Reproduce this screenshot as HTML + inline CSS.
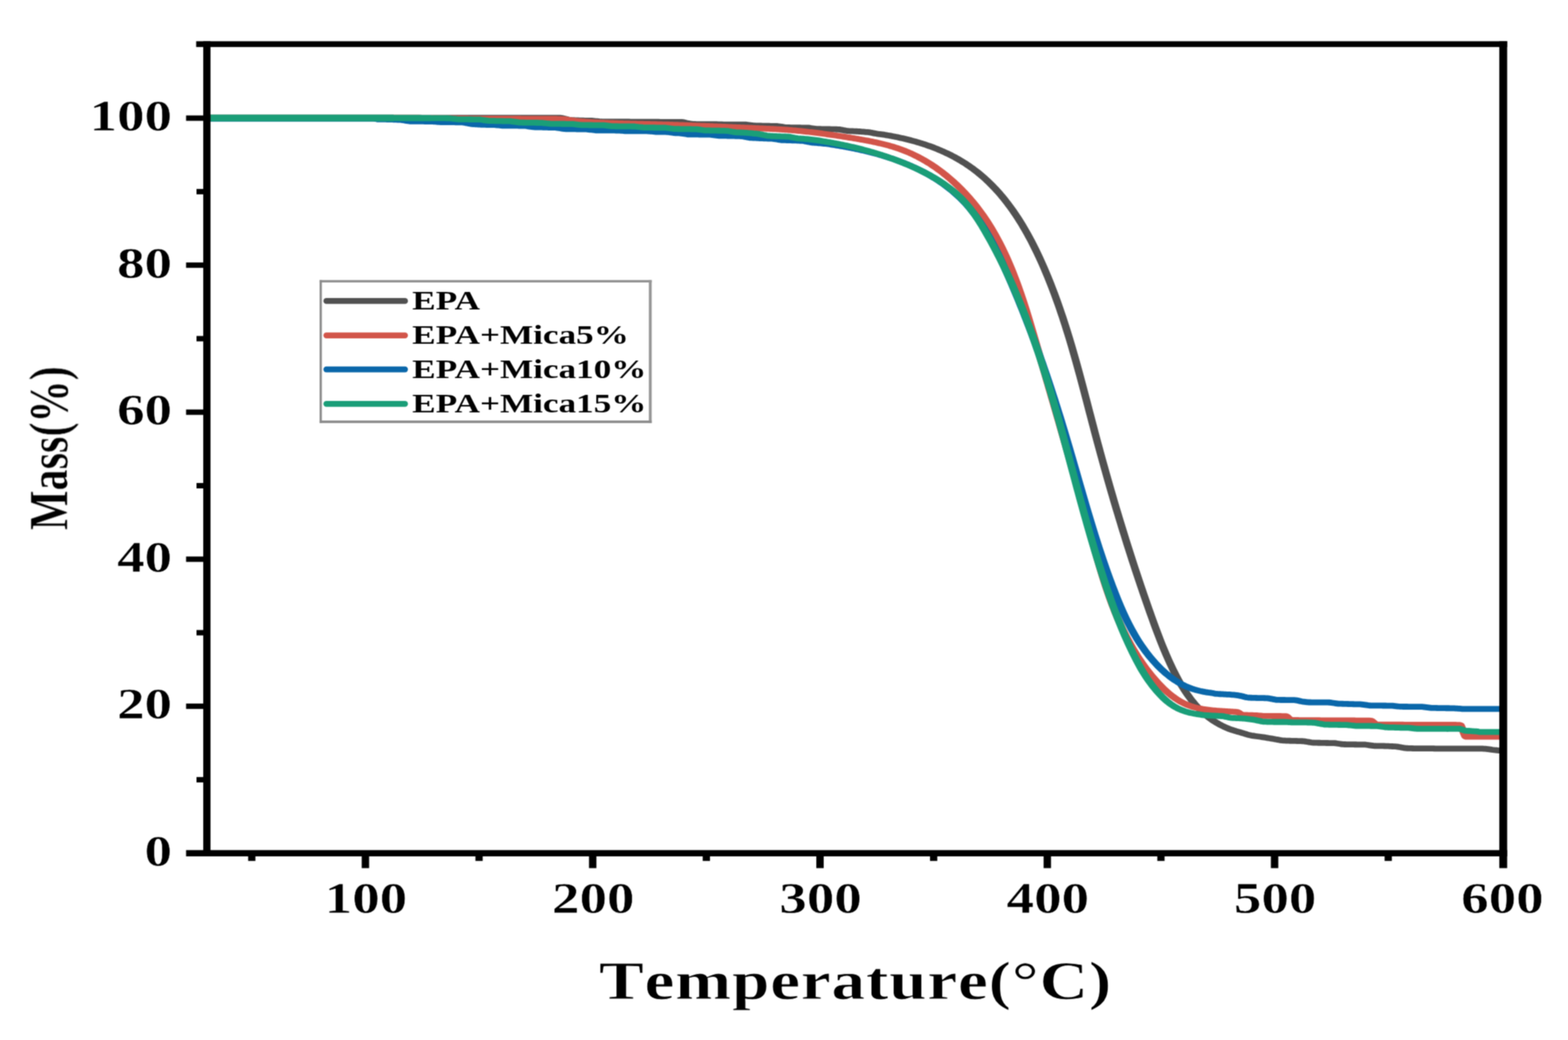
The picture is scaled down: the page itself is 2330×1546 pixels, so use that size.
<!DOCTYPE html>
<html lang="en"><head><meta charset="utf-8"><title>TGA curves</title>
<style>
html,body{margin:0;padding:0;background:#fff;}
body{width:2330px;height:1546px;overflow:hidden;}
svg{display:block;}
text{font-family:"Liberation Serif","DejaVu Serif",serif;font-weight:bold;fill:#000;stroke:#fff;stroke-width:0;stroke-linejoin:round;}
.t1{stroke-width:0.9px;}
.t2{stroke-width:0.55px;}
</style></head><body>
<svg width="2330" height="1546" viewBox="0 0 2330 1546">
<defs><filter id="soft" x="0" y="0" width="2330" height="1546" filterUnits="userSpaceOnUse" color-interpolation-filters="sRGB"><feConvolveMatrix order="3" kernelMatrix="1 2 1 2 4 2 1 2 1" divisor="16" edgeMode="duplicate" preserveAlpha="false"/></filter></defs>
<rect x="0" y="0" width="2330" height="1546" fill="#fff"/>
<g filter="url(#soft)">

<g transform="scale(1.28,1)" fill="none" stroke-width="8.8" stroke-linejoin="round" stroke-linecap="butt">
<path d="M239.84,175.10 L241.41,175.10 L242.97,175.10 L244.53,175.10 L246.09,175.10 L247.66,175.10 L249.22,175.10 L250.78,175.10 L252.34,175.10 L253.91,175.10 L255.47,175.10 L257.03,175.10 L258.59,175.10 L260.16,175.10 L261.72,175.10 L263.28,175.10 L264.84,175.10 L266.41,175.10 L267.97,175.10 L269.53,175.10 L271.09,175.10 L272.66,175.10 L274.22,175.10 L275.78,175.10 L277.34,175.10 L278.91,175.10 L280.47,175.10 L282.03,175.10 L283.59,175.10 L285.16,175.10 L286.72,175.10 L288.28,175.10 L289.84,175.10 L291.41,175.10 L292.97,175.10 L294.53,175.10 L296.09,175.10 L297.66,175.10 L299.22,175.10 L300.78,175.10 L302.34,175.10 L303.91,175.10 L305.47,175.10 L307.03,175.10 L308.59,175.10 L310.16,175.10 L311.72,175.10 L313.28,175.10 L314.84,175.10 L316.41,175.10 L317.97,175.10 L319.53,175.10 L321.09,175.10 L322.66,175.10 L324.22,175.10 L325.78,175.10 L327.34,175.10 L328.91,175.10 L330.47,175.10 L332.03,175.10 L333.59,175.10 L335.16,175.10 L336.72,175.10 L338.28,175.10 L339.84,175.10 L341.41,175.10 L342.97,175.10 L344.53,175.10 L346.09,175.10 L347.66,175.10 L349.22,175.10 L350.78,175.10 L352.34,175.10 L353.91,175.10 L355.47,175.10 L357.03,175.10 L358.59,175.10 L360.16,175.10 L361.72,175.10 L363.28,175.10 L364.84,175.10 L366.41,175.10 L367.97,175.10 L369.53,175.10 L371.09,175.10 L372.66,175.10 L374.22,175.10 L375.78,175.10 L377.34,175.10 L378.91,175.10 L380.47,175.10 L382.03,175.10 L383.59,175.10 L385.16,175.10 L386.72,175.10 L388.28,175.10 L389.84,175.10 L391.41,175.10 L392.97,175.10 L394.53,175.10 L396.09,175.10 L397.66,175.10 L399.22,175.10 L400.78,175.10 L402.34,175.10 L403.91,175.10 L405.47,175.10 L407.03,175.10 L408.59,175.10 L410.16,175.10 L411.72,175.10 L413.28,175.10 L414.84,175.10 L416.41,175.10 L417.97,175.10 L419.53,175.10 L421.09,175.10 L422.66,175.10 L424.22,175.10 L425.78,175.10 L427.34,175.10 L428.91,175.10 L430.47,175.10 L432.03,175.10 L433.59,175.10 L435.16,175.10 L436.72,175.10 L438.28,175.10 L439.84,175.10 L441.41,175.10 L442.97,175.10 L444.53,175.10 L446.09,175.10 L447.66,175.10 L449.22,175.10 L450.78,175.10 L452.34,175.10 L453.91,175.10 L455.47,175.10 L457.03,175.10 L458.59,175.10 L460.16,175.10 L461.72,175.10 L463.28,175.10 L464.84,175.10 L466.41,175.10 L467.97,175.10 L469.53,175.10 L471.09,175.10 L472.66,175.10 L474.22,175.10 L475.78,175.10 L477.34,175.10 L478.91,175.10 L480.47,175.10 L482.03,175.10 L483.59,175.10 L485.16,175.10 L486.72,175.10 L488.28,175.10 L489.84,175.10 L491.41,175.10 L492.97,175.10 L494.53,175.10 L496.09,175.10 L497.66,175.10 L499.22,175.10 L500.78,175.10 L502.34,175.10 L503.91,175.10 L505.47,175.10 L507.03,175.10 L508.59,175.10 L510.16,175.10 L511.72,175.10 L513.28,175.10 L514.84,175.10 L516.41,175.10 L517.97,175.10 L519.53,175.10 L521.09,175.10 L522.66,175.10 L524.22,175.10 L525.78,175.10 L527.34,175.10 L528.91,175.10 L530.47,175.10 L532.03,175.10 L533.59,175.10 L535.16,175.10 L536.72,175.10 L538.28,175.10 L539.84,175.10 L541.41,175.10 L542.97,175.10 L544.53,175.10 L546.09,175.10 L547.66,175.10 L549.22,175.10 L550.78,175.10 L552.34,175.10 L553.91,175.10 L555.47,175.10 L557.03,175.10 L558.59,175.10 L560.16,175.10 L561.72,175.10 L563.28,175.10 L564.84,175.10 L566.41,175.10 L567.97,175.10 L569.53,175.10 L571.09,175.10 L572.66,175.10 L574.22,175.10 L575.78,175.10 L577.34,175.10 L578.91,175.10 L580.47,175.10 L582.03,175.10 L583.59,175.10 L585.16,175.10 L586.72,175.10 L588.28,175.10 L589.84,175.10 L591.41,175.10 L592.97,175.10 L594.53,175.10 L596.09,175.10 L597.66,175.10 L599.22,175.10 L600.78,175.10 L602.34,175.10 L603.91,175.10 L605.47,175.10 L607.03,175.10 L608.59,175.10 L610.16,175.10 L611.72,175.10 L613.28,175.10 L614.84,175.10 L616.41,175.10 L617.97,175.10 L619.53,175.10 L621.09,175.10 L622.66,175.10 L624.22,175.10 L625.78,175.10 L627.34,175.10 L628.91,175.10 L630.47,175.10 L632.03,175.10 L633.59,175.10 L635.16,175.10 L636.72,175.10 L638.28,175.10 L639.84,175.10 L641.41,175.10 L642.97,175.10 L644.53,175.10 L646.09,175.10 L647.66,175.10 L649.22,175.11 L650.78,175.18 L652.34,175.61 L653.91,176.07 L655.47,176.54 L657.03,177.03 L658.59,177.51 L660.16,177.97 L661.72,178.28 L663.28,178.44 L664.84,178.55 L666.41,178.66 L667.97,178.78 L669.53,178.89 L671.09,179.00 L672.66,179.09 L674.22,179.16 L675.78,179.22 L677.34,179.26 L678.91,179.30 L680.47,179.33 L682.03,179.36 L683.59,179.38 L685.16,179.40 L686.72,179.41 L688.28,179.61 L689.84,179.81 L691.41,180.01 L692.97,180.22 L694.53,180.44 L696.09,180.66 L697.66,180.77 L699.22,180.78 L700.78,180.79 L702.34,180.80 L703.91,180.81 L705.47,180.81 L707.03,180.81 L708.59,180.82 L710.16,180.82 L711.72,180.82 L713.28,180.82 L714.84,180.82 L716.41,180.82 L717.97,180.82 L719.53,180.82 L721.09,180.82 L722.66,180.82 L724.22,180.86 L725.78,180.90 L727.34,180.93 L728.91,180.97 L730.47,181.01 L732.03,181.04 L733.59,181.06 L735.16,181.06 L736.72,181.06 L738.28,181.06 L739.84,181.06 L741.41,181.06 L742.97,181.06 L744.53,181.06 L746.09,181.06 L747.66,181.06 L749.22,181.06 L750.78,181.06 L752.34,181.06 L753.91,181.06 L755.47,181.06 L757.03,181.06 L758.59,181.06 L760.16,181.11 L761.72,181.16 L763.28,181.21 L764.84,181.26 L766.41,181.30 L767.97,181.35 L769.53,181.38 L771.09,181.38 L772.66,181.38 L774.22,181.38 L775.78,181.38 L777.34,181.38 L778.91,181.37 L780.47,181.38 L782.03,181.39 L783.59,181.40 L785.16,181.41 L786.72,181.43 L788.28,181.45 L789.84,181.47 L791.41,181.49 L792.97,181.64 L794.53,181.96 L796.09,182.59 L797.66,183.12 L799.22,183.45 L800.78,183.74 L802.34,184.04 L803.91,184.33 L805.47,184.49 L807.03,184.51 L808.59,184.54 L810.16,184.58 L811.72,184.61 L813.28,184.63 L814.84,184.64 L816.41,184.64 L817.97,184.65 L819.53,184.65 L821.09,184.65 L822.66,184.65 L824.22,184.65 L825.78,184.65 L827.34,184.66 L828.91,184.66 L830.47,184.66 L832.03,184.73 L833.59,184.80 L835.16,184.87 L836.72,184.95 L838.28,185.02 L839.84,185.09 L841.41,185.13 L842.97,185.13 L844.53,185.13 L846.09,185.13 L847.66,185.13 L849.22,185.13 L850.78,185.14 L852.34,185.14 L853.91,185.14 L855.47,185.15 L857.03,185.16 L858.59,185.17 L860.16,185.18 L861.72,185.19 L863.28,185.21 L864.84,185.23 L866.41,185.25 L867.97,185.51 L869.53,185.76 L871.09,186.01 L872.66,186.26 L874.22,186.50 L875.78,186.74 L877.34,186.87 L878.91,186.89 L880.47,186.92 L882.03,186.96 L883.59,186.99 L885.16,187.03 L886.72,187.07 L888.28,187.11 L889.84,187.15 L891.41,187.19 L892.97,187.24 L894.53,187.28 L896.09,187.32 L897.66,187.36 L899.22,187.41 L900.78,187.45 L902.34,187.49 L903.91,187.79 L905.47,188.08 L907.03,188.37 L908.59,188.67 L910.16,188.96 L911.72,189.26 L913.28,189.43 L914.84,189.47 L916.41,189.50 L917.97,189.54 L919.53,189.57 L921.09,189.61 L922.66,189.64 L924.22,189.67 L925.78,189.70 L927.34,189.72 L928.91,189.75 L930.47,189.78 L932.03,189.81 L933.59,189.84 L935.16,189.86 L936.72,189.89 L938.28,189.92 L939.84,190.19 L941.41,190.47 L942.97,190.74 L944.53,191.01 L946.09,191.28 L947.66,191.55 L949.22,191.69 L950.78,191.72 L952.34,191.75 L953.91,191.78 L955.47,191.82 L957.03,191.85 L958.59,191.89 L960.16,191.92 L961.72,191.96 L963.28,192.01 L964.84,192.05 L966.41,192.10 L967.97,192.15 L969.53,192.21 L971.09,192.27 L972.66,192.33 L974.22,192.40 L975.78,192.77 L977.34,193.14 L978.91,193.50 L980.47,193.85 L982.03,194.19 L983.59,194.52 L985.16,194.72 L986.72,194.79 L988.28,194.86 L989.84,194.95 L991.41,195.04 L992.97,195.14 L994.53,195.24 L996.09,195.36 L997.66,195.49 L999.22,195.62 L1000.78,195.77 L1002.34,195.93 L1003.91,196.10 L1005.47,196.29 L1007.03,196.48 L1008.59,196.70 L1010.16,196.93 L1011.72,197.36 L1013.28,197.76 L1014.84,198.14 L1016.41,198.49 L1017.97,198.82 L1019.53,199.11 L1021.09,199.36 L1022.66,199.60 L1024.22,199.85 L1025.78,200.17 L1027.34,200.50 L1028.91,200.84 L1030.47,201.19 L1032.03,201.54 L1033.59,201.90 L1035.16,202.28 L1036.72,202.66 L1038.28,203.05 L1039.84,203.45 L1041.41,203.86 L1042.97,204.28 L1044.53,204.71 L1046.09,205.15 L1047.66,205.60 L1049.22,206.06 L1050.78,206.53 L1052.34,207.02 L1053.91,207.51 L1055.47,208.02 L1057.03,208.53 L1058.59,209.06 L1060.16,209.61 L1061.72,210.16 L1063.28,210.72 L1064.84,211.30 L1066.41,211.90 L1067.97,212.50 L1069.53,213.12 L1071.09,213.75 L1072.66,214.40 L1074.22,215.06 L1075.78,215.74 L1077.34,216.43 L1078.91,217.13 L1080.47,217.85 L1082.03,218.59 L1083.59,219.34 L1085.16,220.12 L1086.72,220.90 L1088.28,221.71 L1089.84,222.53 L1091.41,223.37 L1092.97,224.23 L1094.53,225.11 L1096.09,226.01 L1097.66,226.93 L1099.22,227.87 L1100.78,228.83 L1102.34,229.81 L1103.91,230.82 L1105.47,231.84 L1107.03,232.89 L1108.59,233.97 L1110.16,235.07 L1111.72,236.19 L1113.28,237.34 L1114.84,238.51 L1116.41,239.71 L1117.97,240.94 L1119.53,242.19 L1121.09,243.48 L1122.66,244.79 L1124.22,246.13 L1125.78,247.51 L1127.34,248.91 L1128.91,250.35 L1130.47,251.83 L1132.03,253.33 L1133.59,254.88 L1135.16,256.46 L1136.72,258.08 L1138.28,259.74 L1139.84,261.43 L1141.41,263.17 L1142.97,264.94 L1144.53,266.76 L1146.09,268.61 L1147.66,270.51 L1149.22,272.45 L1150.78,274.44 L1152.34,276.47 L1153.91,278.55 L1155.47,280.67 L1157.03,282.84 L1158.59,285.06 L1160.16,287.33 L1161.72,289.65 L1163.28,292.01 L1164.84,294.44 L1166.41,296.91 L1167.97,299.44 L1169.53,302.02 L1171.09,304.67 L1172.66,307.37 L1174.22,310.12 L1175.78,312.94 L1177.34,315.82 L1178.91,318.76 L1180.47,321.77 L1182.03,324.84 L1183.59,327.98 L1185.16,331.18 L1186.72,334.46 L1188.28,337.80 L1189.84,341.22 L1191.41,344.71 L1192.97,348.28 L1194.53,351.92 L1196.09,355.64 L1197.66,359.44 L1199.22,363.32 L1200.78,367.29 L1202.34,371.33 L1203.91,375.46 L1205.47,379.68 L1207.03,383.98 L1208.59,388.37 L1210.16,392.86 L1211.72,397.43 L1213.28,402.09 L1214.84,406.84 L1216.41,411.68 L1217.97,416.61 L1219.53,421.64 L1221.09,426.76 L1222.66,431.98 L1224.22,437.30 L1225.78,442.73 L1227.34,448.26 L1228.91,453.90 L1230.47,459.65 L1232.03,465.51 L1233.59,471.48 L1235.16,477.57 L1236.72,483.77 L1238.28,490.09 L1239.84,496.53 L1241.41,503.09 L1242.97,509.75 L1244.53,516.54 L1246.09,523.43 L1247.66,530.43 L1249.22,537.53 L1250.78,544.73 L1252.34,552.02 L1253.91,559.40 L1255.47,566.84 L1257.03,574.36 L1258.59,581.93 L1260.16,589.54 L1261.72,597.18 L1263.28,604.84 L1264.84,612.52 L1266.41,620.18 L1267.97,627.83 L1269.53,635.46 L1271.09,643.04 L1272.66,650.57 L1274.22,658.04 L1275.78,665.45 L1277.34,672.81 L1278.91,680.11 L1280.47,687.36 L1282.03,694.55 L1283.59,701.68 L1285.16,708.77 L1286.72,715.80 L1288.28,722.78 L1289.84,729.71 L1291.41,736.58 L1292.97,743.41 L1294.53,750.19 L1296.09,756.92 L1297.66,763.60 L1299.22,770.24 L1300.78,776.83 L1302.34,783.37 L1303.91,789.87 L1305.47,796.32 L1307.03,802.72 L1308.59,809.08 L1310.16,815.40 L1311.72,821.67 L1313.28,827.90 L1314.84,834.08 L1316.41,840.23 L1317.97,846.33 L1319.53,852.39 L1321.09,858.40 L1322.66,864.38 L1324.22,870.31 L1325.78,876.21 L1327.34,882.06 L1328.91,887.88 L1330.47,893.65 L1332.03,899.39 L1333.59,905.08 L1335.16,910.74 L1336.72,916.36 L1338.28,921.93 L1339.84,927.46 L1341.41,932.92 L1342.97,938.31 L1344.53,943.61 L1346.09,948.83 L1347.66,953.94 L1349.22,958.96 L1350.78,963.87 L1352.34,968.67 L1353.91,973.36 L1355.47,977.94 L1357.03,982.41 L1358.59,986.78 L1360.16,991.03 L1361.72,995.18 L1363.28,999.21 L1364.84,1003.13 L1366.41,1006.93 L1367.97,1010.61 L1369.53,1014.17 L1371.09,1017.61 L1372.66,1020.94 L1374.22,1024.16 L1375.78,1027.26 L1377.34,1030.25 L1378.91,1033.14 L1380.47,1035.92 L1382.03,1038.60 L1383.59,1041.18 L1385.16,1043.67 L1386.72,1046.06 L1388.28,1048.36 L1389.84,1050.58 L1391.41,1052.72 L1392.97,1054.77 L1394.53,1056.74 L1396.09,1058.64 L1397.66,1060.46 L1399.22,1062.21 L1400.78,1063.90 L1402.34,1065.51 L1403.91,1067.06 L1405.47,1068.55 L1407.03,1069.97 L1408.59,1071.34 L1410.16,1072.65 L1411.72,1073.91 L1413.28,1075.10 L1414.84,1076.25 L1416.41,1077.35 L1417.97,1078.40 L1419.53,1079.39 L1421.09,1080.35 L1422.66,1081.25 L1424.22,1082.11 L1425.78,1082.94 L1427.34,1083.72 L1428.91,1084.43 L1430.47,1085.10 L1432.03,1085.75 L1433.59,1086.37 L1435.16,1086.98 L1436.72,1087.57 L1438.28,1088.16 L1439.84,1088.74 L1441.41,1089.32 L1442.97,1089.90 L1444.53,1090.50 L1446.09,1091.11 L1447.66,1091.77 L1449.22,1092.38 L1450.78,1092.85 L1452.34,1093.24 L1453.91,1093.59 L1455.47,1093.91 L1457.03,1094.21 L1458.59,1094.49 L1460.16,1094.75 L1461.72,1095.01 L1463.28,1095.28 L1464.84,1095.56 L1466.41,1095.85 L1467.97,1096.17 L1469.53,1096.51 L1471.09,1096.86 L1472.66,1097.20 L1474.22,1097.54 L1475.78,1097.86 L1477.34,1098.16 L1478.91,1098.54 L1480.47,1098.92 L1482.03,1099.29 L1483.59,1099.65 L1485.16,1100.01 L1486.72,1100.39 L1488.28,1100.68 L1489.84,1100.81 L1491.41,1100.93 L1492.97,1101.03 L1494.53,1101.11 L1496.09,1101.18 L1497.66,1101.25 L1499.22,1101.30 L1500.78,1101.36 L1502.34,1101.41 L1503.91,1101.47 L1505.47,1101.52 L1507.03,1101.58 L1508.59,1101.64 L1510.16,1101.70 L1511.72,1101.76 L1513.28,1101.82 L1514.84,1102.15 L1516.41,1102.49 L1517.97,1102.82 L1519.53,1103.15 L1521.09,1103.48 L1522.66,1103.81 L1524.22,1104.01 L1525.78,1104.07 L1527.34,1104.12 L1528.91,1104.18 L1530.47,1104.23 L1532.03,1104.27 L1533.59,1104.32 L1535.16,1104.36 L1536.72,1104.40 L1538.28,1104.44 L1539.84,1104.48 L1541.41,1104.52 L1542.97,1104.55 L1544.53,1104.59 L1546.09,1104.62 L1547.66,1104.65 L1549.22,1104.68 L1550.78,1104.95 L1552.34,1105.23 L1553.91,1105.50 L1555.47,1105.78 L1557.03,1106.06 L1558.59,1106.34 L1560.16,1106.49 L1561.72,1106.52 L1563.28,1106.55 L1564.84,1106.58 L1566.41,1106.61 L1567.97,1106.64 L1569.53,1106.67 L1571.09,1106.70 L1572.66,1106.73 L1574.22,1106.76 L1575.78,1106.79 L1577.34,1106.82 L1578.91,1106.84 L1580.47,1106.87 L1582.03,1106.90 L1583.59,1106.93 L1585.16,1106.96 L1586.72,1107.24 L1588.28,1107.53 L1589.84,1107.81 L1591.41,1108.08 L1592.97,1108.35 L1594.53,1108.62 L1596.09,1108.76 L1597.66,1108.79 L1599.22,1108.81 L1600.78,1108.84 L1602.34,1108.88 L1603.91,1108.92 L1605.47,1108.97 L1607.03,1109.02 L1608.59,1109.08 L1610.16,1109.15 L1611.72,1109.23 L1613.28,1109.31 L1614.84,1109.40 L1616.41,1109.49 L1617.97,1109.58 L1619.53,1109.67 L1621.09,1109.77 L1622.66,1110.12 L1624.22,1110.47 L1625.78,1110.83 L1627.34,1111.19 L1628.91,1111.56 L1630.47,1111.93 L1632.03,1112.17 L1633.59,1112.25 L1635.16,1112.33 L1636.72,1112.40 L1638.28,1112.46 L1639.84,1112.51 L1641.41,1112.54 L1642.97,1112.57 L1644.53,1112.60 L1646.09,1112.61 L1647.66,1112.62 L1649.22,1112.62 L1650.78,1112.62 L1652.34,1112.62 L1653.91,1112.62 L1655.47,1112.61 L1657.03,1112.61 L1658.59,1112.64 L1660.16,1112.66 L1661.72,1112.69 L1663.28,1112.72 L1664.84,1112.75 L1666.41,1112.78 L1667.97,1112.80 L1669.53,1112.80 L1671.09,1112.80 L1672.66,1112.80 L1674.22,1112.80 L1675.78,1112.80 L1677.34,1112.80 L1678.91,1112.80 L1680.47,1112.80 L1682.03,1112.80 L1683.59,1112.80 L1685.16,1112.80 L1686.72,1112.80 L1688.28,1112.80 L1689.84,1112.80 L1691.41,1112.80 L1692.97,1112.80 L1694.53,1112.80 L1696.09,1112.80 L1697.66,1112.80 L1699.22,1112.80 L1700.78,1112.80 L1702.34,1112.80 L1703.91,1112.80 L1705.47,1112.80 L1707.03,1112.80 L1708.59,1112.80 L1710.16,1112.80 L1711.72,1112.80 L1713.28,1112.80 L1714.84,1112.80 L1716.41,1112.80 L1717.97,1112.80 L1719.53,1112.81 L1721.09,1112.89 L1722.66,1113.03 L1724.22,1113.20 L1725.78,1113.40 L1727.34,1113.59 L1728.91,1113.77 L1730.47,1114.15 L1732.03,1114.48 L1733.59,1114.74 L1735.16,1114.98 L1736.72,1115.21 L1738.28,1115.46 L1739.84,1115.60 L1740.62,1115.60" stroke="#515151"/>
<path d="M239.84,175.10 L241.41,175.10 L242.97,175.10 L244.53,175.10 L246.09,175.10 L247.66,175.10 L249.22,175.10 L250.78,175.10 L252.34,175.10 L253.91,175.10 L255.47,175.10 L257.03,175.10 L258.59,175.10 L260.16,175.10 L261.72,175.10 L263.28,175.10 L264.84,175.10 L266.41,175.10 L267.97,175.10 L269.53,175.10 L271.09,175.10 L272.66,175.10 L274.22,175.10 L275.78,175.10 L277.34,175.10 L278.91,175.10 L280.47,175.10 L282.03,175.10 L283.59,175.10 L285.16,175.10 L286.72,175.10 L288.28,175.10 L289.84,175.10 L291.41,175.10 L292.97,175.10 L294.53,175.10 L296.09,175.10 L297.66,175.10 L299.22,175.10 L300.78,175.10 L302.34,175.10 L303.91,175.10 L305.47,175.10 L307.03,175.10 L308.59,175.10 L310.16,175.10 L311.72,175.10 L313.28,175.10 L314.84,175.10 L316.41,175.10 L317.97,175.10 L319.53,175.10 L321.09,175.10 L322.66,175.10 L324.22,175.10 L325.78,175.10 L327.34,175.10 L328.91,175.10 L330.47,175.10 L332.03,175.10 L333.59,175.10 L335.16,175.10 L336.72,175.10 L338.28,175.10 L339.84,175.10 L341.41,175.10 L342.97,175.10 L344.53,175.10 L346.09,175.10 L347.66,175.10 L349.22,175.10 L350.78,175.10 L352.34,175.10 L353.91,175.10 L355.47,175.10 L357.03,175.10 L358.59,175.10 L360.16,175.10 L361.72,175.10 L363.28,175.10 L364.84,175.10 L366.41,175.10 L367.97,175.10 L369.53,175.10 L371.09,175.10 L372.66,175.10 L374.22,175.10 L375.78,175.10 L377.34,175.10 L378.91,175.10 L380.47,175.10 L382.03,175.10 L383.59,175.10 L385.16,175.10 L386.72,175.10 L388.28,175.10 L389.84,175.10 L391.41,175.10 L392.97,175.10 L394.53,175.10 L396.09,175.10 L397.66,175.10 L399.22,175.10 L400.78,175.10 L402.34,175.10 L403.91,175.10 L405.47,175.10 L407.03,175.10 L408.59,175.10 L410.16,175.10 L411.72,175.10 L413.28,175.10 L414.84,175.10 L416.41,175.10 L417.97,175.10 L419.53,175.10 L421.09,175.10 L422.66,175.10 L424.22,175.10 L425.78,175.10 L427.34,175.10 L428.91,175.10 L430.47,175.10 L432.03,175.10 L433.59,175.10 L435.16,175.10 L436.72,175.10 L438.28,175.10 L439.84,175.10 L441.41,175.10 L442.97,175.10 L444.53,175.10 L446.09,175.10 L447.66,175.10 L449.22,175.10 L450.78,175.10 L452.34,175.10 L453.91,175.10 L455.47,175.10 L457.03,175.10 L458.59,175.10 L460.16,175.10 L461.72,175.10 L463.28,175.10 L464.84,175.10 L466.41,175.10 L467.97,175.10 L469.53,175.10 L471.09,175.10 L472.66,175.11 L474.22,175.12 L475.78,175.13 L477.34,175.14 L478.91,175.15 L480.47,175.17 L482.03,175.19 L483.59,175.21 L485.16,175.23 L486.72,175.25 L488.28,175.28 L489.84,175.30 L491.41,175.33 L492.97,175.35 L494.53,175.38 L496.09,175.41 L497.66,175.43 L499.22,175.46 L500.78,175.49 L502.34,175.51 L503.91,175.54 L505.47,175.56 L507.03,175.59 L508.59,175.61 L510.16,175.64 L511.72,175.66 L513.28,175.69 L514.84,175.72 L516.41,175.75 L517.97,175.78 L519.53,175.82 L521.09,175.85 L522.66,175.88 L524.22,175.92 L525.78,175.95 L527.34,175.98 L528.91,176.01 L530.47,176.05 L532.03,176.08 L533.59,176.11 L535.16,176.14 L536.72,176.16 L538.28,176.19 L539.84,176.22 L541.41,176.24 L542.97,176.26 L544.53,176.28 L546.09,176.29 L547.66,176.31 L549.22,176.32 L550.78,176.33 L552.34,176.34 L553.91,176.35 L555.47,176.36 L557.03,176.37 L558.59,176.38 L560.16,176.39 L561.72,176.40 L563.28,176.41 L564.84,176.41 L566.41,176.42 L567.97,176.43 L569.53,176.43 L571.09,176.44 L572.66,176.44 L574.22,176.45 L575.78,176.45 L577.34,176.46 L578.91,176.46 L580.47,176.47 L582.03,176.47 L583.59,176.47 L585.16,176.48 L586.72,176.48 L588.28,176.49 L589.84,176.49 L591.41,176.49 L592.97,176.50 L594.53,176.50 L596.09,176.50 L597.66,176.51 L599.22,176.51 L600.78,176.51 L602.34,176.52 L603.91,176.52 L605.47,176.53 L607.03,176.53 L608.59,176.54 L610.16,176.54 L611.72,176.55 L613.28,176.55 L614.84,176.56 L616.41,176.56 L617.97,176.57 L619.53,176.58 L621.09,176.58 L622.66,176.59 L624.22,176.60 L625.78,176.61 L627.34,176.62 L628.91,176.63 L630.47,176.64 L632.03,176.65 L633.59,176.66 L635.16,176.67 L636.72,176.68 L638.28,176.70 L639.84,176.71 L641.41,176.72 L642.97,176.74 L644.53,176.76 L646.09,176.77 L647.66,176.79 L649.22,176.82 L650.78,176.90 L652.34,177.03 L653.91,177.21 L655.47,177.42 L657.03,177.67 L658.59,177.95 L660.16,178.24 L661.72,178.54 L663.28,178.84 L664.84,179.13 L666.41,179.41 L667.97,179.68 L669.53,179.91 L671.09,180.11 L672.66,180.28 L674.22,180.43 L675.78,180.59 L677.34,180.73 L678.91,180.88 L680.47,181.01 L682.03,181.15 L683.59,181.28 L685.16,181.41 L686.72,181.53 L688.28,181.65 L689.84,181.77 L691.41,181.88 L692.97,181.99 L694.53,182.09 L696.09,182.19 L697.66,182.29 L699.22,182.38 L700.78,182.47 L702.34,182.56 L703.91,182.64 L705.47,182.72 L707.03,182.80 L708.59,182.87 L710.16,182.95 L711.72,183.02 L713.28,183.09 L714.84,183.16 L716.41,183.22 L717.97,183.29 L719.53,183.35 L721.09,183.41 L722.66,183.47 L724.22,183.53 L725.78,183.59 L727.34,183.65 L728.91,183.70 L730.47,183.76 L732.03,183.81 L733.59,183.86 L735.16,183.92 L736.72,183.97 L738.28,184.02 L739.84,184.07 L741.41,184.12 L742.97,184.17 L744.53,184.22 L746.09,184.27 L747.66,184.32 L749.22,184.37 L750.78,184.41 L752.34,184.46 L753.91,184.51 L755.47,184.56 L757.03,184.61 L758.59,184.66 L760.16,184.72 L761.72,184.77 L763.28,184.82 L764.84,184.87 L766.41,184.93 L767.97,184.98 L769.53,185.04 L771.09,185.10 L772.66,185.15 L774.22,185.21 L775.78,185.27 L777.34,185.34 L778.91,185.40 L780.47,185.47 L782.03,185.53 L783.59,185.60 L785.16,185.67 L786.72,185.74 L788.28,185.81 L789.84,185.88 L791.41,185.95 L792.97,186.02 L794.53,186.10 L796.09,186.17 L797.66,186.25 L799.22,186.32 L800.78,186.40 L802.34,186.47 L803.91,186.55 L805.47,186.62 L807.03,186.70 L808.59,186.78 L810.16,186.86 L811.72,186.94 L813.28,187.02 L814.84,187.10 L816.41,187.18 L817.97,187.26 L819.53,187.34 L821.09,187.42 L822.66,187.50 L824.22,187.59 L825.78,187.67 L827.34,187.75 L828.91,187.84 L830.47,187.92 L832.03,188.00 L833.59,188.09 L835.16,188.17 L836.72,188.26 L838.28,188.34 L839.84,188.43 L841.41,188.51 L842.97,188.60 L844.53,188.68 L846.09,188.77 L847.66,188.85 L849.22,188.94 L850.78,189.03 L852.34,189.11 L853.91,189.20 L855.47,189.28 L857.03,189.37 L858.59,189.46 L860.16,189.54 L861.72,189.63 L863.28,189.72 L864.84,189.80 L866.41,189.89 L867.97,189.98 L869.53,190.07 L871.09,190.16 L872.66,190.25 L874.22,190.34 L875.78,190.43 L877.34,190.52 L878.91,190.62 L880.47,190.71 L882.03,190.80 L883.59,190.89 L885.16,190.99 L886.72,191.08 L888.28,191.18 L889.84,191.27 L891.41,191.37 L892.97,191.46 L894.53,191.56 L896.09,191.66 L897.66,191.75 L899.22,191.85 L900.78,191.95 L902.34,192.06 L903.91,192.17 L905.47,192.29 L907.03,192.41 L908.59,192.55 L910.16,192.68 L911.72,192.82 L913.28,192.97 L914.84,193.13 L916.41,193.28 L917.97,193.45 L919.53,193.62 L921.09,193.79 L922.66,193.97 L924.22,194.15 L925.78,194.34 L927.34,194.53 L928.91,194.73 L930.47,194.93 L932.03,195.14 L933.59,195.35 L935.16,195.57 L936.72,195.79 L938.28,196.01 L939.84,196.24 L941.41,196.47 L942.97,196.71 L944.53,196.94 L946.09,197.19 L947.66,197.44 L949.22,197.69 L950.78,197.94 L952.34,198.20 L953.91,198.46 L955.47,198.73 L957.03,198.99 L958.59,199.27 L960.16,199.54 L961.72,199.82 L963.28,200.10 L964.84,200.38 L966.41,200.67 L967.97,200.96 L969.53,201.25 L971.09,201.55 L972.66,201.85 L974.22,202.15 L975.78,202.46 L977.34,202.76 L978.91,203.07 L980.47,203.39 L982.03,203.70 L983.59,204.02 L985.16,204.34 L986.72,204.66 L988.28,204.98 L989.84,205.31 L991.41,205.64 L992.97,205.97 L994.53,206.31 L996.09,206.65 L997.66,206.99 L999.22,207.34 L1000.78,207.69 L1002.34,208.04 L1003.91,208.41 L1005.47,208.78 L1007.03,209.15 L1008.59,209.54 L1010.16,209.93 L1011.72,210.33 L1013.28,210.73 L1014.84,211.15 L1016.41,211.57 L1017.97,212.01 L1019.53,212.46 L1021.09,212.91 L1022.66,213.38 L1024.22,213.87 L1025.78,214.36 L1027.34,214.87 L1028.91,215.39 L1030.47,215.92 L1032.03,216.47 L1033.59,217.04 L1035.16,217.62 L1036.72,218.22 L1038.28,218.84 L1039.84,219.48 L1041.41,220.13 L1042.97,220.81 L1044.53,221.50 L1046.09,222.22 L1047.66,222.96 L1049.22,223.72 L1050.78,224.50 L1052.34,225.31 L1053.91,226.15 L1055.47,227.00 L1057.03,227.89 L1058.59,228.79 L1060.16,229.73 L1061.72,230.68 L1063.28,231.67 L1064.84,232.68 L1066.41,233.71 L1067.97,234.77 L1069.53,235.85 L1071.09,236.97 L1072.66,238.10 L1074.22,239.27 L1075.78,240.46 L1077.34,241.68 L1078.91,242.93 L1080.47,244.20 L1082.03,245.50 L1083.59,246.83 L1085.16,248.19 L1086.72,249.58 L1088.28,250.99 L1089.84,252.44 L1091.41,253.92 L1092.97,255.42 L1094.53,256.96 L1096.09,258.53 L1097.66,260.13 L1099.22,261.76 L1100.78,263.42 L1102.34,265.12 L1103.91,266.85 L1105.47,268.61 L1107.03,270.41 L1108.59,272.25 L1110.16,274.12 L1111.72,276.03 L1113.28,277.98 L1114.84,279.96 L1116.41,281.98 L1117.97,284.05 L1119.53,286.15 L1121.09,288.30 L1122.66,290.49 L1124.22,292.73 L1125.78,295.01 L1127.34,297.34 L1128.91,299.71 L1130.47,302.14 L1132.03,304.62 L1133.59,307.15 L1135.16,309.74 L1136.72,312.39 L1138.28,315.10 L1139.84,317.87 L1141.41,320.70 L1142.97,323.61 L1144.53,326.58 L1146.09,329.62 L1147.66,332.74 L1149.22,335.93 L1150.78,339.20 L1152.34,342.56 L1153.91,346.00 L1155.47,349.53 L1157.03,353.14 L1158.59,356.86 L1160.16,360.66 L1161.72,364.57 L1163.28,368.58 L1164.84,372.70 L1166.41,376.93 L1167.97,381.28 L1169.53,385.74 L1171.09,390.32 L1172.66,395.03 L1174.22,399.86 L1175.78,404.82 L1177.34,409.92 L1178.91,415.15 L1180.47,420.52 L1182.03,426.02 L1183.59,431.67 L1185.16,437.45 L1186.72,443.36 L1188.28,449.41 L1189.84,455.59 L1191.41,461.88 L1192.97,468.30 L1194.53,474.82 L1196.09,481.43 L1197.66,488.13 L1199.22,494.89 L1200.78,501.70 L1202.34,508.55 L1203.91,515.42 L1205.47,522.28 L1207.03,529.14 L1208.59,536.01 L1210.16,542.87 L1211.72,549.73 L1213.28,556.59 L1214.84,563.45 L1216.41,570.32 L1217.97,577.18 L1219.53,584.05 L1221.09,590.93 L1222.66,597.81 L1224.22,604.70 L1225.78,611.59 L1227.34,618.49 L1228.91,625.40 L1230.47,632.32 L1232.03,639.26 L1233.59,646.20 L1235.16,653.15 L1236.72,660.12 L1238.28,667.10 L1239.84,674.09 L1241.41,681.10 L1242.97,688.13 L1244.53,695.17 L1246.09,702.23 L1247.66,709.31 L1249.22,716.41 L1250.78,723.54 L1252.34,730.68 L1253.91,737.85 L1255.47,745.04 L1257.03,752.26 L1258.59,759.50 L1260.16,766.77 L1261.72,774.06 L1263.28,781.39 L1264.84,788.74 L1266.41,796.08 L1267.97,803.39 L1269.53,810.66 L1271.09,817.86 L1272.66,824.96 L1274.22,831.97 L1275.78,838.85 L1277.34,845.59 L1278.91,852.20 L1280.47,858.66 L1282.03,864.96 L1283.59,871.10 L1285.16,877.08 L1286.72,882.90 L1288.28,888.56 L1289.84,894.06 L1291.41,899.40 L1292.97,904.60 L1294.53,909.64 L1296.09,914.54 L1297.66,919.30 L1299.22,923.92 L1300.78,928.41 L1302.34,932.77 L1303.91,937.00 L1305.47,941.12 L1307.03,945.12 L1308.59,949.01 L1310.16,952.80 L1311.72,956.48 L1313.28,960.06 L1314.84,963.55 L1316.41,966.94 L1317.97,970.25 L1319.53,973.47 L1321.09,976.61 L1322.66,979.67 L1324.22,982.65 L1325.78,985.55 L1327.34,988.39 L1328.91,991.15 L1330.47,993.85 L1332.03,996.49 L1333.59,999.06 L1335.16,1001.57 L1336.72,1004.02 L1338.28,1006.42 L1339.84,1008.76 L1341.41,1011.04 L1342.97,1013.28 L1344.53,1015.46 L1346.09,1017.59 L1347.66,1019.67 L1349.22,1021.68 L1350.78,1023.64 L1352.34,1025.54 L1353.91,1027.37 L1355.47,1029.14 L1357.03,1030.85 L1358.59,1032.49 L1360.16,1034.07 L1361.72,1035.59 L1363.28,1037.04 L1364.84,1038.43 L1366.41,1039.75 L1367.97,1041.01 L1369.53,1042.20 L1371.09,1043.34 L1372.66,1044.40 L1374.22,1045.41 L1375.78,1046.35 L1377.34,1047.23 L1378.91,1048.05 L1380.47,1048.81 L1382.03,1049.52 L1383.59,1050.18 L1385.16,1050.79 L1386.72,1051.36 L1388.28,1051.88 L1389.84,1052.37 L1391.41,1052.82 L1392.97,1053.24 L1394.53,1053.63 L1396.09,1053.99 L1397.66,1054.32 L1399.22,1054.63 L1400.78,1054.91 L1402.34,1055.18 L1403.91,1055.42 L1405.47,1055.65 L1407.03,1055.85 L1408.59,1056.05 L1410.16,1056.23 L1411.72,1056.40 L1413.28,1056.56 L1414.84,1056.71 L1416.41,1056.85 L1417.97,1056.98 L1419.53,1057.11 L1421.09,1057.23 L1422.66,1057.36 L1424.22,1057.47 L1425.78,1057.60 L1427.34,1057.72 L1428.91,1057.84 L1430.47,1057.95 L1432.03,1058.08 L1433.59,1058.23 L1435.16,1058.44 L1436.72,1058.70 L1438.28,1059.57 L1439.84,1061.02 L1441.41,1062.23 L1442.97,1062.60 L1444.53,1062.76 L1446.09,1062.89 L1447.66,1062.99 L1449.22,1063.07 L1450.78,1063.13 L1452.34,1063.19 L1453.91,1063.25 L1455.47,1063.32 L1457.03,1063.40 L1458.59,1063.50 L1460.16,1063.64 L1461.72,1063.80 L1463.28,1063.98 L1464.84,1064.15 L1466.41,1064.29 L1467.97,1064.38 L1469.53,1064.41 L1471.09,1064.43 L1472.66,1064.45 L1474.22,1064.46 L1475.78,1064.47 L1477.34,1064.48 L1478.91,1064.48 L1480.47,1064.49 L1482.03,1064.49 L1483.59,1064.50 L1485.16,1064.51 L1486.72,1064.52 L1488.28,1064.53 L1489.84,1064.55 L1491.41,1064.57 L1492.97,1064.60 L1494.53,1065.50 L1496.09,1067.44 L1497.66,1069.38 L1499.22,1070.30 L1500.78,1070.35 L1502.34,1070.40 L1503.91,1070.44 L1505.47,1070.48 L1507.03,1070.52 L1508.59,1070.55 L1510.16,1070.57 L1511.72,1070.60 L1513.28,1070.62 L1514.84,1070.64 L1516.41,1070.65 L1517.97,1070.67 L1519.53,1070.68 L1521.09,1070.69 L1522.66,1070.70 L1524.22,1070.71 L1525.78,1070.72 L1527.34,1070.73 L1528.91,1070.74 L1530.47,1070.76 L1532.03,1070.77 L1533.59,1070.78 L1535.16,1070.80 L1536.72,1070.82 L1538.28,1070.83 L1539.84,1070.84 L1541.41,1070.86 L1542.97,1070.87 L1544.53,1070.88 L1546.09,1070.89 L1547.66,1070.90 L1549.22,1070.90 L1550.78,1070.91 L1552.34,1070.92 L1553.91,1070.92 L1555.47,1070.93 L1557.03,1070.94 L1558.59,1070.94 L1560.16,1070.95 L1561.72,1070.95 L1563.28,1070.96 L1564.84,1070.97 L1566.41,1070.98 L1567.97,1070.99 L1569.53,1071.00 L1571.09,1071.01 L1572.66,1071.02 L1574.22,1071.03 L1575.78,1071.05 L1577.34,1071.06 L1578.91,1071.08 L1580.47,1071.10 L1582.03,1071.12 L1583.59,1071.15 L1585.16,1071.17 L1586.72,1071.20 L1588.28,1071.23 L1589.84,1071.26 L1591.41,1071.30 L1592.97,1072.04 L1594.53,1073.69 L1596.09,1075.52 L1597.66,1076.80 L1599.22,1077.01 L1600.78,1077.04 L1602.34,1077.06 L1603.91,1077.08 L1605.47,1077.10 L1607.03,1077.12 L1608.59,1077.14 L1610.16,1077.16 L1611.72,1077.17 L1613.28,1077.19 L1614.84,1077.20 L1616.41,1077.21 L1617.97,1077.22 L1619.53,1077.23 L1621.09,1077.24 L1622.66,1077.25 L1624.22,1077.26 L1625.78,1077.26 L1627.34,1077.27 L1628.91,1077.27 L1630.47,1077.28 L1632.03,1077.28 L1633.59,1077.28 L1635.16,1077.29 L1636.72,1077.29 L1638.28,1077.29 L1639.84,1077.29 L1641.41,1077.29 L1642.97,1077.29 L1644.53,1077.30 L1646.09,1077.30 L1647.66,1077.30 L1649.22,1077.30 L1650.78,1077.30 L1652.34,1077.30 L1653.91,1077.30 L1655.47,1077.30 L1657.03,1077.31 L1658.59,1077.31 L1660.16,1077.31 L1661.72,1077.31 L1663.28,1077.32 L1664.84,1077.32 L1666.41,1077.33 L1667.97,1077.33 L1669.53,1077.34 L1671.09,1077.35 L1672.66,1077.35 L1674.22,1077.36 L1675.78,1077.37 L1677.34,1077.38 L1678.91,1077.40 L1680.47,1077.41 L1682.03,1077.42 L1683.59,1077.44 L1685.16,1077.46 L1686.72,1077.47 L1688.28,1077.49 L1689.84,1077.51 L1691.41,1077.54 L1692.97,1077.56 L1694.53,1077.59 L1696.09,1078.37 L1697.66,1083.18 L1699.22,1089.64 L1700.78,1094.45 L1702.34,1095.20 L1703.91,1095.20 L1705.47,1095.20 L1707.03,1095.20 L1708.59,1095.20 L1710.16,1095.20 L1711.72,1095.20 L1713.28,1095.20 L1714.84,1095.20 L1716.41,1095.20 L1717.97,1095.20 L1719.53,1095.20 L1721.09,1095.20 L1722.66,1095.20 L1724.22,1095.20 L1725.78,1095.20 L1727.34,1095.20 L1728.91,1095.20 L1730.47,1095.20 L1732.03,1095.20 L1733.59,1095.20 L1735.16,1095.20 L1736.72,1095.20 L1738.28,1095.20 L1739.84,1095.20 L1740.62,1095.20" stroke="#d2554a"/>
<path d="M239.84,176.40 L241.41,176.40 L242.97,176.40 L244.53,176.40 L246.09,176.40 L247.66,176.40 L249.22,176.40 L250.78,176.40 L252.34,176.40 L253.91,176.40 L255.47,176.40 L257.03,176.40 L258.59,176.40 L260.16,176.40 L261.72,176.40 L263.28,176.40 L264.84,176.40 L266.41,176.40 L267.97,176.40 L269.53,176.40 L271.09,176.40 L272.66,176.40 L274.22,176.40 L275.78,176.40 L277.34,176.40 L278.91,176.40 L280.47,176.40 L282.03,176.40 L283.59,176.40 L285.16,176.40 L286.72,176.40 L288.28,176.40 L289.84,176.40 L291.41,176.40 L292.97,176.40 L294.53,176.40 L296.09,176.40 L297.66,176.40 L299.22,176.40 L300.78,176.40 L302.34,176.40 L303.91,176.40 L305.47,176.40 L307.03,176.40 L308.59,176.40 L310.16,176.40 L311.72,176.40 L313.28,176.40 L314.84,176.40 L316.41,176.40 L317.97,176.40 L319.53,176.40 L321.09,176.40 L322.66,176.40 L324.22,176.40 L325.78,176.40 L327.34,176.40 L328.91,176.40 L330.47,176.40 L332.03,176.40 L333.59,176.40 L335.16,176.40 L336.72,176.40 L338.28,176.40 L339.84,176.40 L341.41,176.40 L342.97,176.40 L344.53,176.40 L346.09,176.40 L347.66,176.40 L349.22,176.40 L350.78,176.40 L352.34,176.40 L353.91,176.40 L355.47,176.40 L357.03,176.40 L358.59,176.40 L360.16,176.40 L361.72,176.40 L363.28,176.40 L364.84,176.40 L366.41,176.40 L367.97,176.40 L369.53,176.40 L371.09,176.40 L372.66,176.40 L374.22,176.40 L375.78,176.40 L377.34,176.40 L378.91,176.40 L380.47,176.40 L382.03,176.40 L383.59,176.40 L385.16,176.40 L386.72,176.40 L388.28,176.40 L389.84,176.40 L391.41,176.40 L392.97,176.40 L394.53,176.40 L396.09,176.40 L397.66,176.40 L399.22,176.40 L400.78,176.40 L402.34,176.40 L403.91,176.40 L405.47,176.40 L407.03,176.40 L408.59,176.40 L410.16,176.40 L411.72,176.40 L413.28,176.40 L414.84,176.40 L416.41,176.40 L417.97,176.40 L419.53,176.40 L421.09,176.40 L422.66,176.40 L424.22,176.40 L425.78,176.40 L427.34,176.40 L428.91,176.40 L430.47,176.40 L432.03,176.42 L433.59,176.45 L435.16,176.49 L436.72,176.55 L438.28,177.26 L439.84,177.40 L441.41,177.40 L442.97,177.40 L444.53,177.41 L446.09,177.42 L447.66,177.45 L449.22,177.49 L450.78,177.53 L452.34,177.58 L453.91,177.63 L455.47,177.69 L457.03,177.77 L458.59,177.86 L460.16,177.95 L461.72,178.04 L463.28,178.13 L464.84,178.21 L466.41,178.40 L467.97,178.71 L469.53,179.01 L471.09,179.30 L472.66,179.61 L474.22,179.92 L475.78,180.25 L477.34,180.29 L478.91,180.32 L480.47,180.36 L482.03,180.38 L483.59,180.40 L485.16,180.42 L486.72,180.43 L488.28,180.45 L489.84,180.46 L491.41,180.47 L492.97,180.48 L494.53,180.49 L496.09,180.49 L497.66,180.50 L499.22,180.51 L500.78,180.52 L502.34,180.60 L503.91,180.77 L505.47,180.94 L507.03,181.11 L508.59,181.27 L510.16,181.44 L511.72,181.61 L513.28,181.61 L514.84,181.62 L516.41,181.63 L517.97,181.64 L519.53,181.65 L521.09,181.66 L522.66,181.67 L524.22,181.69 L525.78,181.70 L527.34,181.72 L528.91,181.75 L530.47,181.78 L532.03,181.82 L533.59,181.86 L535.16,181.91 L536.72,181.97 L538.28,182.19 L539.84,182.55 L541.41,182.91 L542.97,183.26 L544.53,183.63 L546.09,183.99 L547.66,184.38 L549.22,184.50 L550.78,184.64 L552.34,184.77 L553.91,184.90 L555.47,185.03 L557.03,185.15 L558.59,185.25 L560.16,185.34 L561.72,185.41 L563.28,185.45 L564.84,185.49 L566.41,185.52 L567.97,185.54 L569.53,185.55 L571.09,185.56 L572.66,185.56 L574.22,185.65 L575.78,185.84 L577.34,186.04 L578.91,186.24 L580.47,186.44 L582.03,186.64 L583.59,186.85 L585.16,186.86 L586.72,186.87 L588.28,186.88 L589.84,186.89 L591.41,186.90 L592.97,186.91 L594.53,186.92 L596.09,186.93 L597.66,186.94 L599.22,186.95 L600.78,186.97 L602.34,186.98 L603.91,187.00 L605.47,187.03 L607.03,187.05 L608.59,187.08 L610.16,187.25 L611.72,187.54 L613.28,187.83 L614.84,188.11 L616.41,188.39 L617.97,188.67 L619.53,188.94 L621.09,188.98 L622.66,189.02 L624.22,189.07 L625.78,189.12 L627.34,189.17 L628.91,189.22 L630.47,189.28 L632.03,189.33 L633.59,189.39 L635.16,189.44 L636.72,189.49 L638.28,189.54 L639.84,189.59 L641.41,189.63 L642.97,189.67 L644.53,189.72 L646.09,189.88 L647.66,190.18 L649.22,190.47 L650.78,190.77 L652.34,191.08 L653.91,191.38 L655.47,191.69 L657.03,191.73 L658.59,191.77 L660.16,191.81 L661.72,191.85 L663.28,191.88 L664.84,191.91 L666.41,191.94 L667.97,191.97 L669.53,192.00 L671.09,192.03 L672.66,192.05 L674.22,192.08 L675.78,192.10 L677.34,192.13 L678.91,192.15 L680.47,192.17 L682.03,192.30 L683.59,192.54 L685.16,192.78 L686.72,193.02 L688.28,193.26 L689.84,193.50 L691.41,193.74 L692.97,193.77 L694.53,193.79 L696.09,193.81 L697.66,193.83 L699.22,193.85 L700.78,193.86 L702.34,193.88 L703.91,193.90 L705.47,193.91 L707.03,193.93 L708.59,193.94 L710.16,193.95 L711.72,193.96 L713.28,193.97 L714.84,193.98 L716.41,193.99 L717.97,194.06 L719.53,194.20 L721.09,194.34 L722.66,194.48 L724.22,194.62 L725.78,194.77 L727.34,194.91 L728.91,194.92 L730.47,194.92 L732.03,194.93 L733.59,194.93 L735.16,194.94 L736.72,194.94 L738.28,194.94 L739.84,194.94 L741.41,194.95 L742.97,194.95 L744.53,194.95 L746.09,194.96 L747.66,194.96 L749.22,194.97 L750.78,194.97 L752.34,194.98 L753.91,195.09 L755.47,195.29 L757.03,195.49 L758.59,195.69 L760.16,195.87 L761.72,196.03 L763.28,196.14 L764.84,196.10 L766.41,196.07 L767.97,196.08 L769.53,196.12 L771.09,196.16 L772.66,196.21 L774.22,196.27 L775.78,196.36 L777.34,196.57 L778.91,196.89 L780.47,197.23 L782.03,197.54 L783.59,197.76 L785.16,197.85 L786.72,197.90 L788.28,197.94 L789.84,198.09 L791.41,198.35 L792.97,198.58 L794.53,198.82 L796.09,199.10 L797.66,199.47 L799.22,199.90 L800.78,199.91 L802.34,199.93 L803.91,199.94 L805.47,199.95 L807.03,199.95 L808.59,199.96 L810.16,199.97 L811.72,199.99 L813.28,200.00 L814.84,200.02 L816.41,200.03 L817.97,200.05 L819.53,200.07 L821.09,200.10 L822.66,200.12 L824.22,200.15 L825.78,200.29 L827.34,200.55 L828.91,200.81 L830.47,201.07 L832.03,201.32 L833.59,201.57 L835.16,201.82 L836.72,201.85 L838.28,201.87 L839.84,201.90 L841.41,201.93 L842.97,201.96 L844.53,201.99 L846.09,202.03 L847.66,202.06 L849.22,202.10 L850.78,202.15 L852.34,202.19 L853.91,202.24 L855.47,202.30 L857.03,202.35 L858.59,202.42 L860.16,202.49 L861.72,202.72 L863.28,203.09 L864.84,203.45 L866.41,203.81 L867.97,204.17 L869.53,204.52 L871.09,204.87 L872.66,204.95 L874.22,205.04 L875.78,205.13 L877.34,205.22 L878.91,205.32 L880.47,205.41 L882.03,205.51 L883.59,205.60 L885.16,205.69 L886.72,205.77 L888.28,205.85 L889.84,205.92 L891.41,205.98 L892.97,206.05 L894.53,206.10 L896.09,206.15 L897.66,206.34 L899.22,206.66 L900.78,206.98 L902.34,207.30 L903.91,207.63 L905.47,207.96 L907.03,208.29 L908.59,208.34 L910.16,208.39 L911.72,208.44 L913.28,208.49 L914.84,208.55 L916.41,208.60 L917.97,208.66 L919.53,208.73 L921.09,208.80 L922.66,208.88 L924.22,208.96 L925.78,209.05 L927.34,209.15 L928.91,209.25 L930.47,209.36 L932.03,209.48 L933.59,209.76 L935.16,210.17 L936.72,210.57 L938.28,210.96 L939.84,211.34 L941.41,211.70 L942.97,212.06 L944.53,212.18 L946.09,212.31 L947.66,212.45 L949.22,212.60 L950.78,212.76 L952.34,212.93 L953.91,213.12 L955.47,213.32 L957.03,213.53 L958.59,213.75 L960.16,213.99 L961.72,214.25 L963.28,214.52 L964.84,214.80 L966.41,215.11 L967.97,215.43 L969.53,215.78 L971.09,216.14 L972.66,216.47 L974.22,216.79 L975.78,217.12 L977.34,217.46 L978.91,217.81 L980.47,218.16 L982.03,218.52 L983.59,218.88 L985.16,219.26 L986.72,219.64 L988.28,220.02 L989.84,220.42 L991.41,220.82 L992.97,221.23 L994.53,221.65 L996.09,222.07 L997.66,222.51 L999.22,222.95 L1000.78,223.40 L1002.34,223.86 L1003.91,224.32 L1005.47,224.80 L1007.03,225.28 L1008.59,225.77 L1010.16,226.28 L1011.72,226.79 L1013.28,227.31 L1014.84,227.84 L1016.41,228.38 L1017.97,228.92 L1019.53,229.48 L1021.09,230.05 L1022.66,230.63 L1024.22,231.22 L1025.78,231.82 L1027.34,232.44 L1028.91,233.06 L1030.47,233.69 L1032.03,234.34 L1033.59,235.00 L1035.16,235.66 L1036.72,236.35 L1038.28,237.04 L1039.84,237.75 L1041.41,238.46 L1042.97,239.20 L1044.53,239.94 L1046.09,240.70 L1047.66,241.47 L1049.22,242.26 L1050.78,243.06 L1052.34,243.88 L1053.91,244.71 L1055.47,245.56 L1057.03,246.42 L1058.59,247.30 L1060.16,248.20 L1061.72,249.11 L1063.28,250.04 L1064.84,250.99 L1066.41,251.96 L1067.97,252.94 L1069.53,253.94 L1071.09,254.97 L1072.66,256.01 L1074.22,257.08 L1075.78,258.16 L1077.34,259.27 L1078.91,260.40 L1080.47,261.55 L1082.03,262.73 L1083.59,263.93 L1085.16,265.15 L1086.72,266.40 L1088.28,267.68 L1089.84,268.99 L1091.41,270.32 L1092.97,271.69 L1094.53,273.08 L1096.09,274.51 L1097.66,275.96 L1099.22,277.46 L1100.78,278.98 L1102.34,280.55 L1103.91,282.15 L1105.47,283.79 L1107.03,285.47 L1108.59,287.19 L1110.16,288.96 L1111.72,290.78 L1113.28,292.64 L1114.84,294.55 L1116.41,296.52 L1117.97,298.55 L1119.53,300.63 L1121.09,302.78 L1122.66,304.99 L1124.22,307.27 L1125.78,309.62 L1127.34,312.04 L1128.91,314.53 L1130.47,317.09 L1132.03,319.73 L1133.59,322.45 L1135.16,325.24 L1136.72,328.11 L1138.28,331.06 L1139.84,334.10 L1141.41,337.22 L1142.97,340.42 L1144.53,343.71 L1146.09,347.08 L1147.66,350.55 L1149.22,354.09 L1150.78,357.73 L1152.34,361.45 L1153.91,365.26 L1155.47,369.15 L1157.03,373.13 L1158.59,377.19 L1160.16,381.33 L1161.72,385.55 L1163.28,389.83 L1164.84,394.19 L1166.41,398.61 L1167.97,403.09 L1169.53,407.61 L1171.09,412.18 L1172.66,416.79 L1174.22,421.44 L1175.78,426.12 L1177.34,430.85 L1178.91,435.61 L1180.47,440.41 L1182.03,445.25 L1183.59,450.14 L1185.16,455.07 L1186.72,460.04 L1188.28,465.05 L1189.84,470.11 L1191.41,475.21 L1192.97,480.36 L1194.53,485.56 L1196.09,490.81 L1197.66,496.10 L1199.22,501.45 L1200.78,506.84 L1202.34,512.28 L1203.91,517.78 L1205.47,523.33 L1207.03,528.93 L1208.59,534.58 L1210.16,540.29 L1211.72,546.05 L1213.28,551.87 L1214.84,557.75 L1216.41,563.68 L1217.97,569.67 L1219.53,575.71 L1221.09,581.81 L1222.66,587.97 L1224.22,594.18 L1225.78,600.46 L1227.34,606.79 L1228.91,613.18 L1230.47,619.62 L1232.03,626.12 L1233.59,632.68 L1235.16,639.30 L1236.72,645.97 L1238.28,652.69 L1239.84,659.46 L1241.41,666.28 L1242.97,673.14 L1244.53,680.03 L1246.09,686.94 L1247.66,693.88 L1249.22,700.82 L1250.78,707.77 L1252.34,714.71 L1253.91,721.64 L1255.47,728.56 L1257.03,735.45 L1258.59,742.31 L1260.16,749.14 L1261.72,755.92 L1263.28,762.66 L1264.84,769.34 L1266.41,775.96 L1267.97,782.52 L1269.53,789.02 L1271.09,795.44 L1272.66,801.79 L1274.22,808.06 L1275.78,814.25 L1277.34,820.36 L1278.91,826.39 L1280.47,832.32 L1282.03,838.17 L1283.59,843.94 L1285.16,849.61 L1286.72,855.19 L1288.28,860.68 L1289.84,866.09 L1291.41,871.40 L1292.97,876.62 L1294.53,881.75 L1296.09,886.79 L1297.66,891.74 L1299.22,896.58 L1300.78,901.30 L1302.34,905.91 L1303.91,910.40 L1305.47,914.76 L1307.03,919.00 L1308.59,923.11 L1310.16,927.10 L1311.72,930.97 L1313.28,934.72 L1314.84,938.35 L1316.41,941.87 L1317.97,945.28 L1319.53,948.59 L1321.09,951.80 L1322.66,954.92 L1324.22,957.94 L1325.78,960.87 L1327.34,963.72 L1328.91,966.48 L1330.47,969.17 L1332.03,971.79 L1333.59,974.33 L1335.16,976.80 L1336.72,979.20 L1338.28,981.54 L1339.84,983.81 L1341.41,986.01 L1342.97,988.16 L1344.53,990.24 L1346.09,992.26 L1347.66,994.21 L1349.22,996.11 L1350.78,997.95 L1352.34,999.73 L1353.91,1001.45 L1355.47,1003.12 L1357.03,1004.73 L1358.59,1006.28 L1360.16,1007.78 L1361.72,1009.22 L1363.28,1010.60 L1364.84,1011.93 L1366.41,1013.21 L1367.97,1014.43 L1369.53,1015.60 L1371.09,1016.71 L1372.66,1017.78 L1374.22,1018.78 L1375.78,1019.74 L1377.34,1020.64 L1378.91,1021.49 L1380.47,1022.29 L1382.03,1023.04 L1383.59,1023.75 L1385.16,1024.41 L1386.72,1025.02 L1388.28,1025.60 L1389.84,1026.15 L1391.41,1026.65 L1392.97,1027.13 L1394.53,1027.57 L1396.09,1027.99 L1397.66,1028.38 L1399.22,1028.74 L1400.78,1029.08 L1402.34,1029.40 L1403.91,1029.65 L1405.47,1029.89 L1407.03,1030.21 L1408.59,1030.60 L1410.16,1031.06 L1411.72,1031.27 L1413.28,1031.46 L1414.84,1031.61 L1416.41,1031.75 L1417.97,1031.87 L1419.53,1031.98 L1421.09,1032.08 L1422.66,1032.18 L1424.22,1032.27 L1425.78,1032.36 L1427.34,1032.47 L1428.91,1032.62 L1430.47,1032.78 L1432.03,1032.97 L1433.59,1033.16 L1435.16,1033.34 L1436.72,1033.62 L1438.28,1033.99 L1439.84,1034.38 L1441.41,1034.79 L1442.97,1035.26 L1444.53,1035.82 L1446.09,1036.41 L1447.66,1036.74 L1449.22,1037.00 L1450.78,1037.15 L1452.34,1037.25 L1453.91,1037.33 L1455.47,1037.39 L1457.03,1037.45 L1458.59,1037.50 L1460.16,1037.54 L1461.72,1037.58 L1463.28,1037.62 L1464.84,1037.66 L1466.41,1037.70 L1467.97,1037.76 L1469.53,1037.84 L1471.09,1037.93 L1472.66,1038.16 L1474.22,1038.52 L1475.78,1038.89 L1477.34,1039.26 L1478.91,1039.63 L1480.47,1039.99 L1482.03,1040.34 L1483.59,1040.41 L1485.16,1040.45 L1486.72,1040.48 L1488.28,1040.50 L1489.84,1040.51 L1491.41,1040.52 L1492.97,1040.53 L1494.53,1040.54 L1496.09,1040.56 L1497.66,1040.58 L1499.22,1040.61 L1500.78,1040.64 L1502.34,1040.68 L1503.91,1040.81 L1505.47,1041.10 L1507.03,1041.46 L1508.59,1041.95 L1510.16,1042.46 L1511.72,1042.82 L1513.28,1043.11 L1514.84,1043.40 L1516.41,1043.68 L1517.97,1043.97 L1519.53,1043.99 L1521.09,1044.02 L1522.66,1044.04 L1524.22,1044.06 L1525.78,1044.07 L1527.34,1044.08 L1528.91,1044.08 L1530.47,1044.09 L1532.03,1044.09 L1533.59,1044.10 L1535.16,1044.11 L1536.72,1044.12 L1538.28,1044.14 L1539.84,1044.17 L1541.41,1044.19 L1542.97,1044.23 L1544.53,1044.40 L1546.09,1044.71 L1547.66,1045.00 L1549.22,1045.29 L1550.78,1045.58 L1552.34,1045.86 L1553.91,1046.13 L1555.47,1046.18 L1557.03,1046.22 L1558.59,1046.27 L1560.16,1046.33 L1561.72,1046.38 L1563.28,1046.44 L1564.84,1046.50 L1566.41,1046.56 L1567.97,1046.62 L1569.53,1046.68 L1571.09,1046.73 L1572.66,1046.78 L1574.22,1046.83 L1575.78,1046.87 L1577.34,1046.91 L1578.91,1046.94 L1580.47,1047.09 L1582.03,1047.36 L1583.59,1047.63 L1585.16,1047.91 L1586.72,1048.19 L1588.28,1048.47 L1589.84,1048.76 L1591.41,1048.79 L1592.97,1048.82 L1594.53,1048.84 L1596.09,1048.87 L1597.66,1048.89 L1599.22,1048.91 L1600.78,1048.93 L1602.34,1048.95 L1603.91,1048.97 L1605.47,1048.99 L1607.03,1049.00 L1608.59,1049.02 L1610.16,1049.04 L1611.72,1049.05 L1613.28,1049.07 L1614.84,1049.08 L1616.41,1049.19 L1617.97,1049.40 L1619.53,1049.61 L1621.09,1049.82 L1622.66,1050.03 L1624.22,1050.24 L1625.78,1050.45 L1627.34,1050.46 L1628.91,1050.48 L1630.47,1050.49 L1632.03,1050.50 L1633.59,1050.52 L1635.16,1050.53 L1636.72,1050.55 L1638.28,1050.57 L1639.84,1050.58 L1641.41,1050.60 L1642.97,1050.61 L1644.53,1050.63 L1646.09,1050.65 L1647.66,1050.67 L1649.22,1050.69 L1650.78,1050.72 L1652.34,1050.86 L1653.91,1051.12 L1655.47,1051.37 L1657.03,1051.63 L1658.59,1051.88 L1660.16,1052.13 L1661.72,1052.38 L1663.28,1052.41 L1664.84,1052.44 L1666.41,1052.47 L1667.97,1052.50 L1669.53,1052.54 L1671.09,1052.57 L1672.66,1052.61 L1674.22,1052.64 L1675.78,1052.67 L1677.34,1052.70 L1678.91,1052.73 L1680.47,1052.75 L1682.03,1052.77 L1683.59,1052.79 L1685.16,1052.80 L1686.72,1052.81 L1688.28,1052.88 L1689.84,1053.03 L1691.41,1053.18 L1692.97,1053.33 L1694.53,1053.48 L1696.09,1053.64 L1697.66,1053.80 L1699.22,1053.80 L1700.78,1053.80 L1702.34,1053.80 L1703.91,1053.80 L1705.47,1053.80 L1707.03,1053.80 L1708.59,1053.80 L1710.16,1053.80 L1711.72,1053.80 L1713.28,1053.80 L1714.84,1053.80 L1716.41,1053.80 L1717.97,1053.80 L1719.53,1053.80 L1721.09,1053.80 L1722.66,1053.80 L1724.22,1053.80 L1725.78,1053.80 L1727.34,1053.80 L1728.91,1053.80 L1730.47,1053.80 L1732.03,1053.80 L1733.59,1053.80 L1735.16,1053.80 L1736.72,1053.80 L1738.28,1053.80 L1739.84,1053.80 L1740.62,1053.80" stroke="#0a67aa"/>
<path d="M239.84,175.10 L241.41,175.10 L242.97,175.10 L244.53,175.10 L246.09,175.10 L247.66,175.10 L249.22,175.10 L250.78,175.10 L252.34,175.10 L253.91,175.10 L255.47,175.10 L257.03,175.10 L258.59,175.10 L260.16,175.10 L261.72,175.10 L263.28,175.10 L264.84,175.10 L266.41,175.10 L267.97,175.10 L269.53,175.10 L271.09,175.10 L272.66,175.10 L274.22,175.10 L275.78,175.10 L277.34,175.10 L278.91,175.10 L280.47,175.10 L282.03,175.10 L283.59,175.10 L285.16,175.10 L286.72,175.10 L288.28,175.10 L289.84,175.10 L291.41,175.10 L292.97,175.10 L294.53,175.10 L296.09,175.10 L297.66,175.10 L299.22,175.10 L300.78,175.10 L302.34,175.10 L303.91,175.10 L305.47,175.10 L307.03,175.10 L308.59,175.10 L310.16,175.10 L311.72,175.10 L313.28,175.10 L314.84,175.10 L316.41,175.10 L317.97,175.10 L319.53,175.10 L321.09,175.10 L322.66,175.10 L324.22,175.10 L325.78,175.10 L327.34,175.10 L328.91,175.10 L330.47,175.10 L332.03,175.10 L333.59,175.10 L335.16,175.10 L336.72,175.10 L338.28,175.10 L339.84,175.10 L341.41,175.10 L342.97,175.10 L344.53,175.10 L346.09,175.10 L347.66,175.10 L349.22,175.10 L350.78,175.10 L352.34,175.10 L353.91,175.10 L355.47,175.10 L357.03,175.10 L358.59,175.10 L360.16,175.10 L361.72,175.10 L363.28,175.10 L364.84,175.10 L366.41,175.10 L367.97,175.10 L369.53,175.10 L371.09,175.10 L372.66,175.10 L374.22,175.10 L375.78,175.10 L377.34,175.10 L378.91,175.10 L380.47,175.10 L382.03,175.10 L383.59,175.10 L385.16,175.10 L386.72,175.10 L388.28,175.10 L389.84,175.10 L391.41,175.10 L392.97,175.10 L394.53,175.10 L396.09,175.10 L397.66,175.10 L399.22,175.10 L400.78,175.10 L402.34,175.10 L403.91,175.10 L405.47,175.10 L407.03,175.10 L408.59,175.10 L410.16,175.10 L411.72,175.10 L413.28,175.10 L414.84,175.10 L416.41,175.10 L417.97,175.10 L419.53,175.10 L421.09,175.10 L422.66,175.10 L424.22,175.10 L425.78,175.10 L427.34,175.10 L428.91,175.10 L430.47,175.10 L432.03,175.10 L433.59,175.10 L435.16,175.10 L436.72,175.10 L438.28,175.10 L439.84,175.10 L441.41,175.10 L442.97,175.10 L444.53,175.10 L446.09,175.10 L447.66,175.10 L449.22,175.10 L450.78,175.10 L452.34,175.10 L453.91,175.10 L455.47,175.10 L457.03,175.10 L458.59,175.10 L460.16,175.10 L461.72,175.10 L463.28,175.10 L464.84,175.10 L466.41,175.10 L467.97,175.10 L469.53,175.10 L471.09,175.10 L472.66,175.10 L474.22,175.10 L475.78,175.10 L477.34,175.10 L478.91,175.10 L480.47,175.10 L482.03,175.10 L483.59,175.10 L485.16,175.10 L486.72,175.18 L488.28,175.26 L489.84,175.34 L491.41,175.41 L492.97,175.49 L494.53,175.56 L496.09,175.60 L497.66,175.60 L499.22,175.60 L500.78,175.60 L502.34,175.61 L503.91,175.61 L505.47,175.62 L507.03,175.63 L508.59,175.64 L510.16,175.65 L511.72,175.67 L513.28,175.68 L514.84,175.70 L516.41,175.72 L517.97,175.74 L519.53,175.76 L521.09,175.78 L522.66,176.02 L524.22,176.25 L525.78,176.48 L527.34,176.72 L528.91,176.95 L530.47,177.18 L532.03,177.30 L533.59,177.33 L535.16,177.35 L536.72,177.37 L538.28,177.39 L539.84,177.41 L541.41,177.43 L542.97,177.46 L544.53,177.48 L546.09,177.50 L547.66,177.52 L549.22,177.55 L550.78,177.58 L552.34,177.60 L553.91,177.63 L555.47,177.67 L557.03,177.70 L558.59,177.99 L560.16,178.28 L561.72,178.57 L563.28,178.86 L564.84,179.14 L566.41,179.42 L567.97,179.58 L569.53,179.62 L571.09,179.66 L572.66,179.70 L574.22,179.74 L575.78,179.78 L577.34,179.83 L578.91,179.87 L580.47,179.92 L582.03,179.96 L583.59,180.01 L585.16,180.05 L586.72,180.10 L588.28,180.14 L589.84,180.18 L591.41,180.22 L592.97,180.26 L594.53,180.55 L596.09,180.83 L597.66,181.12 L599.22,181.41 L600.78,181.70 L602.34,182.00 L603.91,182.16 L605.47,182.20 L607.03,182.24 L608.59,182.27 L610.16,182.30 L611.72,182.33 L613.28,182.35 L614.84,182.38 L616.41,182.40 L617.97,182.43 L619.53,182.45 L621.09,182.47 L622.66,182.49 L624.22,182.51 L625.78,182.53 L627.34,182.55 L628.91,182.57 L630.47,182.80 L632.03,183.03 L633.59,183.26 L635.16,183.49 L636.72,183.72 L638.28,183.95 L639.84,184.08 L641.41,184.10 L642.97,184.12 L644.53,184.14 L646.09,184.15 L647.66,184.17 L649.22,184.19 L650.78,184.21 L652.34,184.23 L653.91,184.24 L655.47,184.26 L657.03,184.28 L658.59,184.30 L660.16,184.32 L661.72,184.34 L663.28,184.36 L664.84,184.38 L666.41,184.61 L667.97,184.84 L669.53,185.07 L671.09,185.30 L672.66,185.53 L674.22,185.76 L675.78,185.88 L677.34,185.90 L678.91,185.92 L680.47,185.94 L682.03,185.96 L683.59,185.98 L685.16,186.00 L686.72,186.02 L688.28,186.04 L689.84,186.06 L691.41,186.08 L692.97,186.10 L694.53,186.12 L696.09,186.14 L697.66,186.16 L699.22,186.18 L700.78,186.20 L702.34,186.43 L703.91,186.66 L705.47,186.89 L707.03,187.12 L708.59,187.35 L710.16,187.58 L711.72,187.70 L713.28,187.72 L714.84,187.74 L716.41,187.76 L717.97,187.78 L719.53,187.80 L721.09,187.82 L722.66,187.84 L724.22,187.86 L725.78,187.88 L727.34,187.90 L728.91,187.92 L730.47,187.94 L732.03,187.96 L733.59,187.98 L735.16,188.00 L736.72,188.02 L738.28,188.26 L739.84,188.50 L741.41,188.74 L742.97,188.98 L744.53,189.22 L746.09,189.46 L747.66,189.59 L749.22,189.61 L750.78,189.63 L752.34,189.65 L753.91,189.68 L755.47,189.70 L757.03,189.72 L758.59,189.75 L760.16,189.77 L761.72,189.79 L763.28,189.82 L764.84,189.84 L766.41,189.87 L767.97,189.89 L769.53,189.92 L771.09,189.95 L772.66,189.97 L774.22,190.23 L775.78,190.49 L777.34,190.75 L778.91,191.01 L780.47,191.27 L782.03,191.53 L783.59,191.67 L785.16,191.70 L786.72,191.73 L788.28,191.75 L789.84,191.78 L791.41,191.81 L792.97,191.83 L794.53,191.86 L796.09,191.89 L797.66,191.92 L799.22,191.94 L800.78,191.97 L802.34,192.00 L803.91,192.03 L805.47,192.06 L807.03,192.09 L808.59,192.12 L810.16,192.39 L811.72,192.67 L813.28,192.94 L814.84,193.22 L816.41,193.49 L817.97,193.76 L819.53,193.91 L821.09,193.94 L822.66,193.97 L824.22,194.01 L825.78,194.04 L827.34,194.07 L828.91,194.11 L830.47,194.15 L832.03,194.19 L833.59,194.23 L835.16,194.27 L836.72,194.32 L838.28,194.37 L839.84,194.42 L841.41,194.47 L842.97,194.53 L844.53,194.58 L846.09,194.95 L847.66,195.31 L849.22,195.67 L850.78,196.01 L852.34,196.34 L853.91,196.66 L855.47,196.83 L857.03,196.88 L858.59,196.94 L860.16,197.00 L861.72,197.09 L863.28,197.19 L864.84,197.30 L866.41,197.44 L867.97,197.58 L869.53,197.75 L871.09,197.93 L872.66,198.12 L874.22,198.32 L875.78,198.52 L877.34,198.73 L878.91,198.93 L880.47,199.12 L882.03,199.50 L883.59,199.89 L885.16,200.28 L886.72,200.68 L888.28,201.10 L889.84,201.53 L891.41,201.83 L892.97,201.98 L894.53,202.12 L896.09,202.24 L897.66,202.35 L899.22,202.43 L900.78,202.50 L902.34,202.57 L903.91,202.64 L905.47,202.71 L907.03,202.78 L908.59,202.85 L910.16,202.93 L911.72,203.01 L913.28,203.10 L914.84,203.20 L916.41,203.31 L917.97,203.73 L919.53,204.14 L921.09,204.53 L922.66,204.91 L924.22,205.27 L925.78,205.62 L927.34,205.85 L928.91,205.96 L930.47,206.09 L932.03,206.22 L933.59,206.37 L935.16,206.54 L936.72,206.71 L938.28,206.90 L939.84,207.10 L941.41,207.31 L942.97,207.54 L944.53,207.79 L946.09,208.05 L947.66,208.32 L949.22,208.62 L950.78,208.93 L952.34,209.25 L953.91,209.63 L955.47,209.97 L957.03,210.29 L958.59,210.62 L960.16,210.96 L961.72,211.30 L963.28,211.64 L964.84,212.00 L966.41,212.36 L967.97,212.72 L969.53,213.10 L971.09,213.48 L972.66,213.86 L974.22,214.26 L975.78,214.66 L977.34,215.06 L978.91,215.48 L980.47,215.90 L982.03,216.33 L983.59,216.76 L985.16,217.21 L986.72,217.66 L988.28,218.11 L989.84,218.58 L991.41,219.05 L992.97,219.53 L994.53,220.02 L996.09,220.51 L997.66,221.02 L999.22,221.53 L1000.78,222.04 L1002.34,222.57 L1003.91,223.11 L1005.47,223.65 L1007.03,224.20 L1008.59,224.76 L1010.16,225.32 L1011.72,225.90 L1013.28,226.48 L1014.84,227.07 L1016.41,227.68 L1017.97,228.28 L1019.53,228.90 L1021.09,229.53 L1022.66,230.17 L1024.22,230.81 L1025.78,231.47 L1027.34,232.13 L1028.91,232.80 L1030.47,233.48 L1032.03,234.17 L1033.59,234.88 L1035.16,235.59 L1036.72,236.31 L1038.28,237.04 L1039.84,237.78 L1041.41,238.53 L1042.97,239.29 L1044.53,240.06 L1046.09,240.84 L1047.66,241.63 L1049.22,242.43 L1050.78,243.25 L1052.34,244.07 L1053.91,244.91 L1055.47,245.75 L1057.03,246.61 L1058.59,247.49 L1060.16,248.37 L1061.72,249.27 L1063.28,250.18 L1064.84,251.11 L1066.41,252.06 L1067.97,253.01 L1069.53,253.99 L1071.09,254.98 L1072.66,255.99 L1074.22,257.02 L1075.78,258.07 L1077.34,259.14 L1078.91,260.23 L1080.47,261.34 L1082.03,262.47 L1083.59,263.62 L1085.16,264.80 L1086.72,266.01 L1088.28,267.24 L1089.84,268.50 L1091.41,269.78 L1092.97,271.10 L1094.53,272.45 L1096.09,273.83 L1097.66,275.24 L1099.22,276.69 L1100.78,278.17 L1102.34,279.70 L1103.91,281.27 L1105.47,282.88 L1107.03,284.53 L1108.59,286.24 L1110.16,287.99 L1111.72,289.80 L1113.28,291.67 L1114.84,293.59 L1116.41,295.59 L1117.97,297.65 L1119.53,299.79 L1121.09,302.01 L1122.66,304.31 L1124.22,306.70 L1125.78,309.18 L1127.34,311.75 L1128.91,314.41 L1130.47,317.16 L1132.03,319.99 L1133.59,322.92 L1135.16,325.93 L1136.72,329.03 L1138.28,332.20 L1139.84,335.46 L1141.41,338.78 L1142.97,342.17 L1144.53,345.61 L1146.09,349.11 L1147.66,352.65 L1149.22,356.24 L1150.78,359.87 L1152.34,363.55 L1153.91,367.28 L1155.47,371.05 L1157.03,374.87 L1158.59,378.75 L1160.16,382.67 L1161.72,386.65 L1163.28,390.68 L1164.84,394.77 L1166.41,398.91 L1167.97,403.11 L1169.53,407.37 L1171.09,411.69 L1172.66,416.06 L1174.22,420.51 L1175.78,425.01 L1177.34,429.58 L1178.91,434.22 L1180.47,438.92 L1182.03,443.70 L1183.59,448.54 L1185.16,453.46 L1186.72,458.44 L1188.28,463.51 L1189.84,468.65 L1191.41,473.86 L1192.97,479.16 L1194.53,484.53 L1196.09,489.98 L1197.66,495.52 L1199.22,501.14 L1200.78,506.84 L1202.34,512.62 L1203.91,518.49 L1205.47,524.45 L1207.03,530.49 L1208.59,536.62 L1210.16,542.83 L1211.72,549.13 L1213.28,555.51 L1214.84,561.98 L1216.41,568.53 L1217.97,575.16 L1219.53,581.87 L1221.09,588.66 L1222.66,595.52 L1224.22,602.46 L1225.78,609.46 L1227.34,616.53 L1228.91,623.67 L1230.47,630.86 L1232.03,638.10 L1233.59,645.39 L1235.16,652.72 L1236.72,660.09 L1238.28,667.48 L1239.84,674.91 L1241.41,682.35 L1242.97,689.80 L1244.53,697.25 L1246.09,704.71 L1247.66,712.15 L1249.22,719.58 L1250.78,726.99 L1252.34,734.37 L1253.91,741.71 L1255.47,749.02 L1257.03,756.28 L1258.59,763.50 L1260.16,770.66 L1261.72,777.76 L1263.28,784.80 L1264.84,791.77 L1266.41,798.67 L1267.97,805.50 L1269.53,812.26 L1271.09,818.94 L1272.66,825.55 L1274.22,832.07 L1275.78,838.52 L1277.34,844.88 L1278.91,851.16 L1280.47,857.36 L1282.03,863.47 L1283.59,869.49 L1285.16,875.42 L1286.72,881.26 L1288.28,887.00 L1289.84,892.65 L1291.41,898.20 L1292.97,903.65 L1294.53,909.00 L1296.09,914.26 L1297.66,919.42 L1299.22,924.48 L1300.78,929.44 L1302.34,934.31 L1303.91,939.08 L1305.47,943.77 L1307.03,948.35 L1308.59,952.85 L1310.16,957.26 L1311.72,961.58 L1313.28,965.81 L1314.84,969.95 L1316.41,974.02 L1317.97,977.99 L1319.53,981.87 L1321.09,985.65 L1322.66,989.32 L1324.22,992.88 L1325.78,996.33 L1327.34,999.66 L1328.91,1002.88 L1330.47,1005.99 L1332.03,1009.00 L1333.59,1011.90 L1335.16,1014.70 L1336.72,1017.40 L1338.28,1020.01 L1339.84,1022.53 L1341.41,1024.97 L1342.97,1027.33 L1344.53,1029.60 L1346.09,1031.79 L1347.66,1033.90 L1349.22,1035.93 L1350.78,1037.86 L1352.34,1039.72 L1353.91,1041.48 L1355.47,1043.16 L1357.03,1044.74 L1358.59,1046.24 L1360.16,1047.65 L1361.72,1048.97 L1363.28,1050.20 L1364.84,1051.35 L1366.41,1052.43 L1367.97,1053.43 L1369.53,1054.36 L1371.09,1055.23 L1372.66,1056.04 L1374.22,1056.78 L1375.78,1057.47 L1377.34,1058.10 L1378.91,1058.68 L1380.47,1059.21 L1382.03,1059.70 L1383.59,1060.14 L1385.16,1060.55 L1386.72,1060.92 L1388.28,1061.26 L1389.84,1061.57 L1391.41,1061.85 L1392.97,1062.20 L1394.53,1062.56 L1396.09,1062.83 L1397.66,1063.04 L1399.22,1063.22 L1400.78,1063.37 L1402.34,1063.50 L1403.91,1063.61 L1405.47,1063.71 L1407.03,1063.81 L1408.59,1063.90 L1410.16,1063.99 L1411.72,1064.09 L1413.28,1064.18 L1414.84,1064.28 L1416.41,1064.39 L1417.97,1064.49 L1419.53,1064.61 L1421.09,1065.01 L1422.66,1065.43 L1424.22,1065.86 L1425.78,1066.28 L1427.34,1066.67 L1428.91,1067.04 L1430.47,1067.27 L1432.03,1067.35 L1433.59,1067.43 L1435.16,1067.52 L1436.72,1067.61 L1438.28,1067.71 L1439.84,1067.82 L1441.41,1067.94 L1442.97,1068.08 L1444.53,1068.24 L1446.09,1068.43 L1447.66,1068.66 L1449.22,1068.91 L1450.78,1069.16 L1452.34,1069.40 L1453.91,1069.66 L1455.47,1069.92 L1457.03,1070.34 L1458.59,1070.77 L1460.16,1071.20 L1461.72,1071.62 L1463.28,1072.05 L1464.84,1072.48 L1466.41,1072.77 L1467.97,1072.88 L1469.53,1072.97 L1471.09,1073.04 L1472.66,1073.10 L1474.22,1073.15 L1475.78,1073.18 L1477.34,1073.21 L1478.91,1073.23 L1480.47,1073.24 L1482.03,1073.24 L1483.59,1073.25 L1485.16,1073.25 L1486.72,1073.25 L1488.28,1073.25 L1489.84,1073.25 L1491.41,1073.25 L1492.97,1073.35 L1494.53,1073.45 L1496.09,1073.55 L1497.66,1073.66 L1499.22,1073.76 L1500.78,1073.86 L1502.34,1073.91 L1503.91,1073.91 L1505.47,1073.90 L1507.03,1073.90 L1508.59,1073.90 L1510.16,1073.90 L1511.72,1073.91 L1513.28,1073.92 L1514.84,1073.94 L1516.41,1073.97 L1517.97,1074.00 L1519.53,1074.04 L1521.09,1074.10 L1522.66,1074.20 L1524.22,1074.33 L1525.78,1074.49 L1527.34,1074.65 L1528.91,1075.07 L1530.47,1075.46 L1532.03,1075.81 L1533.59,1076.15 L1535.16,1076.49 L1536.72,1076.82 L1538.28,1077.03 L1539.84,1077.11 L1541.41,1077.18 L1542.97,1077.25 L1544.53,1077.30 L1546.09,1077.34 L1547.66,1077.38 L1549.22,1077.41 L1550.78,1077.44 L1552.34,1077.46 L1553.91,1077.49 L1555.47,1077.51 L1557.03,1077.53 L1558.59,1077.54 L1560.16,1077.56 L1561.72,1077.58 L1563.28,1077.59 L1564.84,1077.81 L1566.41,1078.03 L1567.97,1078.25 L1569.53,1078.48 L1571.09,1078.70 L1572.66,1078.92 L1574.22,1079.04 L1575.78,1079.06 L1577.34,1079.07 L1578.91,1079.09 L1580.47,1079.11 L1582.03,1079.12 L1583.59,1079.14 L1585.16,1079.16 L1586.72,1079.18 L1588.28,1079.20 L1589.84,1079.22 L1591.41,1079.24 L1592.97,1079.26 L1594.53,1079.28 L1596.09,1079.30 L1597.66,1079.33 L1599.22,1079.35 L1600.78,1079.65 L1602.34,1079.93 L1603.91,1080.22 L1605.47,1080.50 L1607.03,1080.78 L1608.59,1081.05 L1610.16,1081.20 L1611.72,1081.24 L1613.28,1081.28 L1614.84,1081.33 L1616.41,1081.38 L1617.97,1081.43 L1619.53,1081.49 L1621.09,1081.55 L1622.66,1081.61 L1624.22,1081.67 L1625.78,1081.73 L1627.34,1081.78 L1628.91,1081.83 L1630.47,1081.87 L1632.03,1081.91 L1633.59,1081.94 L1635.16,1081.96 L1636.72,1082.16 L1638.28,1082.37 L1639.84,1082.58 L1641.41,1082.80 L1642.97,1083.02 L1644.53,1083.26 L1646.09,1083.38 L1647.66,1083.39 L1649.22,1083.40 L1650.78,1083.40 L1652.34,1083.40 L1653.91,1083.40 L1655.47,1083.40 L1657.03,1083.40 L1658.59,1083.40 L1660.16,1083.40 L1661.72,1083.40 L1663.28,1083.40 L1664.84,1083.40 L1666.41,1083.40 L1667.97,1083.40 L1669.53,1083.40 L1671.09,1083.40 L1672.66,1083.42 L1674.22,1083.43 L1675.78,1083.45 L1677.34,1083.46 L1678.91,1083.47 L1680.47,1083.48 L1682.03,1083.47 L1683.59,1083.45 L1685.16,1083.44 L1686.72,1083.43 L1688.28,1083.43 L1689.84,1083.43 L1691.41,1083.43 L1692.97,1083.43 L1694.53,1083.50 L1696.09,1083.96 L1697.66,1084.70 L1699.22,1085.49 L1700.78,1086.15 L1702.34,1086.44 L1703.91,1086.48 L1705.47,1086.51 L1707.03,1086.55 L1708.59,1086.78 L1710.16,1086.99 L1711.72,1087.04 L1713.28,1087.08 L1714.84,1087.30 L1716.41,1087.76 L1717.97,1088.07 L1719.53,1088.08 L1721.09,1088.08 L1722.66,1088.08 L1724.22,1088.08 L1725.78,1088.08 L1727.34,1088.08 L1728.91,1088.08 L1730.47,1088.08 L1732.03,1088.08 L1733.59,1088.08 L1735.16,1088.08 L1736.72,1088.08 L1738.28,1088.08 L1739.84,1088.08 L1740.62,1088.08" stroke="#1a9e78"/>
<path d="M239.06,175.55 L457.03,175.55" stroke="#1a9e78" stroke-width="9.9"/>
<path d="M457.03,175.5 L500.00,175.7" stroke="#1a9e78" stroke-width="9.2"/>
</g>
<rect x="302.00" y="61.30" width="10.80" height="1211.70" fill="#000"/>
<rect x="2227.90" y="61.30" width="11.70" height="1229.20" fill="#000"/>
<rect x="291.50" y="61.30" width="1948.10" height="8.60" fill="#000"/>
<rect x="276.50" y="1263.70" width="1963.10" height="9.30" fill="#000"/>
<rect x="292.00" y="1155.12" width="11.00" height="8.00" fill="#000"/>
<rect x="276.50" y="1045.84" width="26.50" height="8.00" fill="#000"/>
<rect x="292.00" y="936.56" width="11.00" height="8.00" fill="#000"/>
<rect x="276.50" y="827.28" width="26.50" height="8.00" fill="#000"/>
<rect x="292.00" y="718.00" width="11.00" height="8.00" fill="#000"/>
<rect x="276.50" y="608.72" width="26.50" height="8.00" fill="#000"/>
<rect x="292.00" y="499.44" width="11.00" height="8.00" fill="#000"/>
<rect x="276.50" y="390.16" width="26.50" height="8.00" fill="#000"/>
<rect x="292.00" y="280.88" width="11.00" height="8.00" fill="#000"/>
<rect x="276.50" y="171.60" width="26.50" height="8.00" fill="#000"/>
<rect x="368.73" y="1272.00" width="10.80" height="7.80" fill="#000"/>
<rect x="537.50" y="1272.00" width="11.00" height="18.50" fill="#000"/>
<rect x="706.48" y="1272.00" width="10.80" height="7.80" fill="#000"/>
<rect x="875.25" y="1272.00" width="11.00" height="18.50" fill="#000"/>
<rect x="1044.22" y="1272.00" width="10.80" height="7.80" fill="#000"/>
<rect x="1213.00" y="1272.00" width="11.00" height="18.50" fill="#000"/>
<rect x="1381.97" y="1272.00" width="10.80" height="7.80" fill="#000"/>
<rect x="1550.75" y="1272.00" width="11.00" height="18.50" fill="#000"/>
<rect x="1719.72" y="1272.00" width="10.80" height="7.80" fill="#000"/>
<rect x="1888.50" y="1272.00" width="11.00" height="18.50" fill="#000"/>
<rect x="2057.47" y="1272.00" width="10.80" height="7.80" fill="#000"/>
<text transform="translate(255.6,1287.00) scale(1.255,1)" class="t2" font-size="65.0" text-anchor="end">0</text>
<text transform="translate(255.6,1068.44) scale(1.255,1)" class="t2" font-size="65.0" text-anchor="end">20</text>
<text transform="translate(255.6,849.88) scale(1.255,1)" class="t2" font-size="65.0" text-anchor="end">40</text>
<text transform="translate(255.6,631.32) scale(1.255,1)" class="t2" font-size="65.0" text-anchor="end">60</text>
<text transform="translate(255.6,412.76) scale(1.255,1)" class="t2" font-size="65.0" text-anchor="end">80</text>
<text transform="translate(255.6,194.20) scale(1.255,1)" class="t2" font-size="65.0" text-anchor="end">100</text>
<text transform="translate(543.80,1356.8) scale(1.255,1)" class="t2" font-size="65.0" text-anchor="middle">100</text>
<text transform="translate(881.55,1356.8) scale(1.255,1)" class="t2" font-size="65.0" text-anchor="middle">200</text>
<text transform="translate(1219.30,1356.8) scale(1.255,1)" class="t2" font-size="65.0" text-anchor="middle">300</text>
<text transform="translate(1557.05,1356.8) scale(1.255,1)" class="t2" font-size="65.0" text-anchor="middle">400</text>
<text transform="translate(1894.80,1356.8) scale(1.255,1)" class="t2" font-size="65.0" text-anchor="middle">500</text>
<text transform="translate(2232.55,1356.8) scale(1.255,1)" class="t2" font-size="65.0" text-anchor="middle">600</text>
<text transform="translate(889.9,1484.6) scale(1.235,1)" class="t1" font-size="81" style="font-kerning:none;letter-spacing:0.93px">Temperature(°C)</text>
<text transform="translate(99.5,666.4) scale(1.327,1) rotate(-90)" class="t2" font-size="62.7" text-anchor="middle">Mass(%)</text>
<rect x="476.6" y="418.1" width="489.6" height="208.9" fill="#fff"/>
<rect x="474.90" y="416.40" width="3.40" height="212.50" fill="#8c8c8c"/>
<rect x="474.90" y="416.40" width="493.50" height="3.40" fill="#8c8c8c"/>
<rect x="964.20" y="416.40" width="4.20" height="212.50" fill="#969696"/>
<rect x="474.90" y="625.10" width="493.50" height="3.80" fill="#8c8c8c"/>
<line x1="485" y1="447.4" x2="601.8" y2="447.4" stroke="#515151" stroke-width="8.8" stroke-linecap="round"/>
<text transform="translate(612.6,460.20) scale(1.326,1)" font-size="39.4">EPA</text>
<line x1="485" y1="498.6" x2="601.8" y2="498.6" stroke="#d2554a" stroke-width="8.8" stroke-linecap="round"/>
<text transform="translate(612.6,511.40) scale(1.326,1)" font-size="39.4">EPA+Mica5%</text>
<line x1="485" y1="549.1" x2="601.8" y2="549.1" stroke="#0a67aa" stroke-width="8.8" stroke-linecap="round"/>
<text transform="translate(612.6,561.90) scale(1.326,1)" font-size="39.4">EPA+Mica10%</text>
<line x1="485" y1="600.3" x2="601.8" y2="600.3" stroke="#1a9e78" stroke-width="8.8" stroke-linecap="round"/>
<text transform="translate(612.6,613.10) scale(1.326,1)" font-size="39.4">EPA+Mica15%</text>
</g>
</svg></body></html>
